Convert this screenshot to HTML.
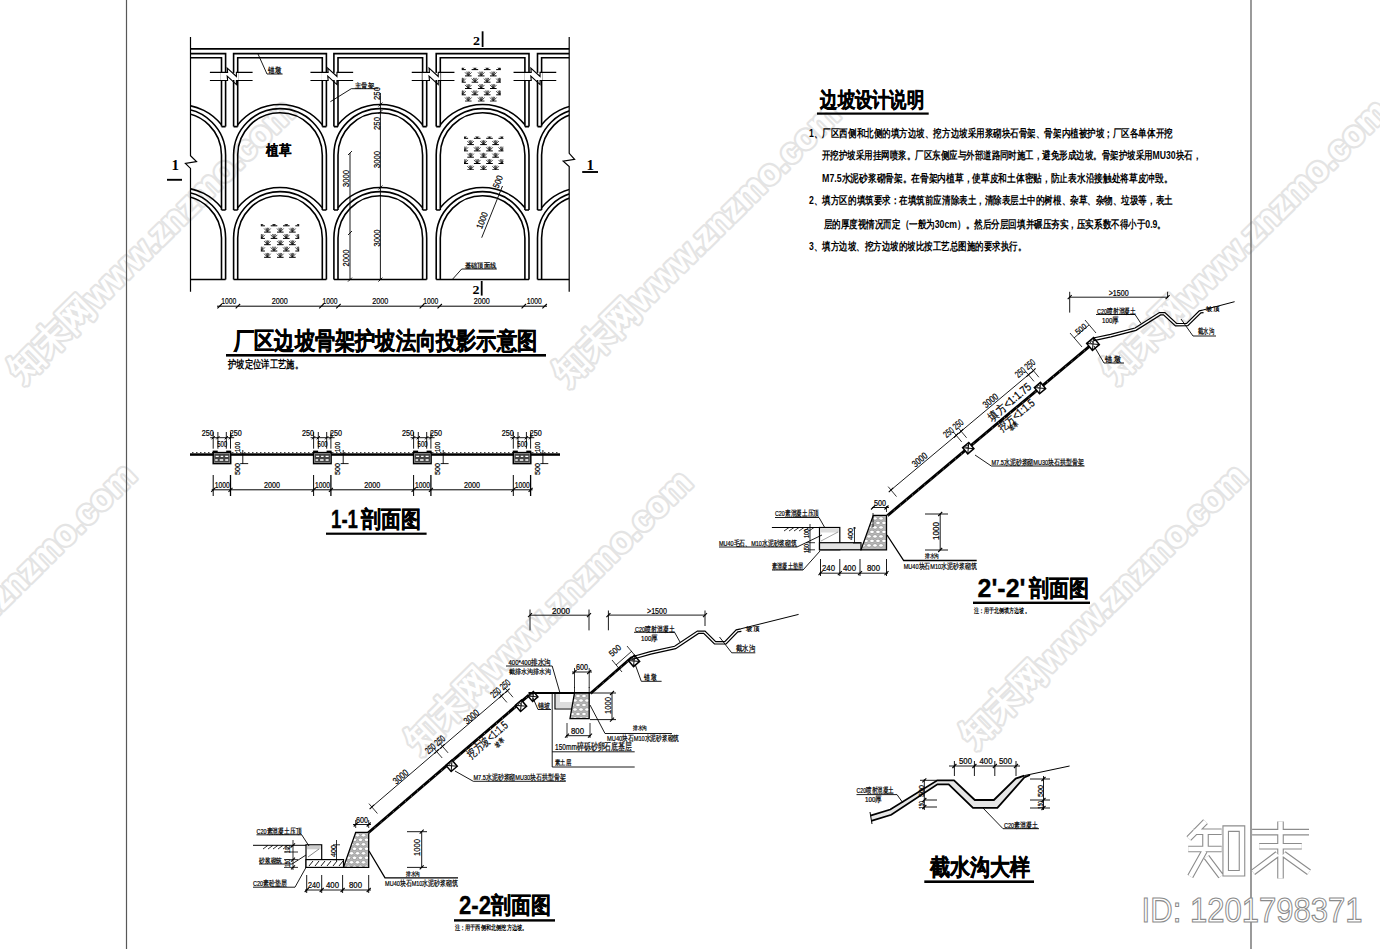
<!DOCTYPE html>
<html><head><meta charset="utf-8"><title>slope drawing</title>
<style>html,body{margin:0;padding:0;background:#fff;}svg{display:block;}</style></head>
<body><svg width="1380" height="949" viewBox="0 0 1380 949">
<rect x="0" y="0" width="1380" height="949" fill="#fff"/>
<text x="22" y="384" transform="rotate(-44.5 22 384)" font-family='"Liberation Sans", sans-serif' font-weight="bold" font-size="35" fill="#fff" stroke="#e4e4e4" stroke-width="4.4" paint-order="stroke" stroke-linejoin="round">知末网www.znzmo.com</text>
<text x="567" y="387" transform="rotate(-44.5 567 387)" font-family='"Liberation Sans", sans-serif' font-weight="bold" font-size="35" fill="#fff" stroke="#e4e4e4" stroke-width="4.4" paint-order="stroke" stroke-linejoin="round">知末网www.znzmo.com</text>
<text x="1115" y="384" transform="rotate(-44.5 1115 384)" font-family='"Liberation Sans", sans-serif' font-weight="bold" font-size="35" fill="#fff" stroke="#e4e4e4" stroke-width="4.4" paint-order="stroke" stroke-linejoin="round">知末网www.znzmo.com</text>
<text x="-137" y="748" transform="rotate(-44.5 -137 748)" font-family='"Liberation Sans", sans-serif' font-weight="bold" font-size="35" fill="#fff" stroke="#e4e4e4" stroke-width="4.4" paint-order="stroke" stroke-linejoin="round">知末网www.znzmo.com</text>
<text x="419" y="755" transform="rotate(-44.5 419 755)" font-family='"Liberation Sans", sans-serif' font-weight="bold" font-size="35" fill="#fff" stroke="#e4e4e4" stroke-width="4.4" paint-order="stroke" stroke-linejoin="round">知末网www.znzmo.com</text>
<text x="974" y="749" transform="rotate(-44.5 974 749)" font-family='"Liberation Sans", sans-serif' font-weight="bold" font-size="35" fill="#fff" stroke="#e4e4e4" stroke-width="4.4" paint-order="stroke" stroke-linejoin="round">知末网www.znzmo.com</text>
<line x1="126.5" y1="0" x2="126.5" y2="949" stroke="#585858" stroke-width="1.2" />
<line x1="1251" y1="0" x2="1251" y2="949" stroke="#585858" stroke-width="1.2" />
<defs><clipPath id="latclip"><rect x="190.5" y="30" width="378.70000000000005" height="270"/></clipPath>
<g id="tuft"><path d="M-3.3,0 H3.3" stroke="#000" stroke-width="1.0"/><path d="M-0.3,-0.4 L-3.3,-3.6 M-0.2,-0.4 L-1.5,-4.3 M0,-0.4 L0,-4.4 M0.2,-0.4 L1.5,-4.3 M0.3,-0.4 L3.3,-3.6" stroke="#000" stroke-width="0.7" fill="none"/></g>
</defs>
<g clip-path="url(#latclip)">
<path d="M132.8,126.6 V53.6 H225.6 V126.6 M136.9,126.6 V57.7 H221.5 V126.6 M132.8,126.6 H136.9 M221.5,126.6 H225.6" stroke="#000" stroke-width="1.6" fill="none"/>
<path d="M136.9,124.81 A54.2,54.2 0 0 1 221.5,124.81" stroke="#000" stroke-width="1.6" fill="none"/>
<path d="M132.8,210 V155 A46.4,46.4 0 0 1 225.6,155 V210" stroke="#000" stroke-width="1.6" fill="none"/>
<path d="M136.9,210 V155 A42.3,42.3 0 0 1 221.5,155 V210" stroke="#000" stroke-width="1.6" fill="none"/>
<path d="M132.8,210 H136.9 M221.5,210 H225.6" stroke="#000" stroke-width="1.6"/>
<path d="M136.9,207.81 A54.2,54.2 0 0 1 221.5,207.81" stroke="#000" stroke-width="1.6" fill="none"/>
<path d="M132.8,279.6 V238 A46.4,46.4 0 0 1 225.6,238 V279.6" stroke="#000" stroke-width="1.6" fill="none"/>
<path d="M136.9,279.6 V238 A42.3,42.3 0 0 1 221.5,238 V279.6" stroke="#000" stroke-width="1.6" fill="none"/>
<line x1="132.8" y1="279.6" x2="225.6" y2="279.6" stroke="#000" stroke-width="1.5" />
<path d="M233.6,126.6 V53.6 H326.4 V126.6 M237.7,126.6 V57.7 H322.3 V126.6 M233.6,126.6 H237.7 M322.3,126.6 H326.4" stroke="#000" stroke-width="1.6" fill="none"/>
<path d="M237.7,124.81 A54.2,54.2 0 0 1 322.3,124.81" stroke="#000" stroke-width="1.6" fill="none"/>
<path d="M233.6,210 V155 A46.4,46.4 0 0 1 326.4,155 V210" stroke="#000" stroke-width="1.6" fill="none"/>
<path d="M237.7,210 V155 A42.3,42.3 0 0 1 322.3,155 V210" stroke="#000" stroke-width="1.6" fill="none"/>
<path d="M233.6,210 H237.7 M322.3,210 H326.4" stroke="#000" stroke-width="1.6"/>
<path d="M237.7,207.81 A54.2,54.2 0 0 1 322.3,207.81" stroke="#000" stroke-width="1.6" fill="none"/>
<path d="M233.6,279.6 V238 A46.4,46.4 0 0 1 326.4,238 V279.6" stroke="#000" stroke-width="1.6" fill="none"/>
<path d="M237.7,279.6 V238 A42.3,42.3 0 0 1 322.3,238 V279.6" stroke="#000" stroke-width="1.6" fill="none"/>
<line x1="233.6" y1="279.6" x2="326.4" y2="279.6" stroke="#000" stroke-width="1.5" />
<path d="M333.9,126.6 V53.6 H426.7 V126.6 M338,126.6 V57.7 H422.6 V126.6 M333.9,126.6 H338 M422.6,126.6 H426.7" stroke="#000" stroke-width="1.6" fill="none"/>
<path d="M338,124.81 A54.2,54.2 0 0 1 422.6,124.81" stroke="#000" stroke-width="1.6" fill="none"/>
<path d="M333.9,210 V155 A46.4,46.4 0 0 1 426.7,155 V210" stroke="#000" stroke-width="1.6" fill="none"/>
<path d="M338,210 V155 A42.3,42.3 0 0 1 422.6,155 V210" stroke="#000" stroke-width="1.6" fill="none"/>
<path d="M333.9,210 H338 M422.6,210 H426.7" stroke="#000" stroke-width="1.6"/>
<path d="M338,207.81 A54.2,54.2 0 0 1 422.6,207.81" stroke="#000" stroke-width="1.6" fill="none"/>
<path d="M333.9,279.6 V238 A46.4,46.4 0 0 1 426.7,238 V279.6" stroke="#000" stroke-width="1.6" fill="none"/>
<path d="M338,279.6 V238 A42.3,42.3 0 0 1 422.6,238 V279.6" stroke="#000" stroke-width="1.6" fill="none"/>
<line x1="333.9" y1="279.6" x2="426.7" y2="279.6" stroke="#000" stroke-width="1.5" />
<path d="M436.2,126.6 V53.6 H529 V126.6 M440.3,126.6 V57.7 H524.9 V126.6 M436.2,126.6 H440.3 M524.9,126.6 H529" stroke="#000" stroke-width="1.6" fill="none"/>
<path d="M440.3,124.81 A54.2,54.2 0 0 1 524.9,124.81" stroke="#000" stroke-width="1.6" fill="none"/>
<path d="M436.2,210 V155 A46.4,46.4 0 0 1 529,155 V210" stroke="#000" stroke-width="1.6" fill="none"/>
<path d="M440.3,210 V155 A42.3,42.3 0 0 1 524.9,155 V210" stroke="#000" stroke-width="1.6" fill="none"/>
<path d="M436.2,210 H440.3 M524.9,210 H529" stroke="#000" stroke-width="1.6"/>
<path d="M440.3,207.81 A54.2,54.2 0 0 1 524.9,207.81" stroke="#000" stroke-width="1.6" fill="none"/>
<path d="M436.2,279.6 V238 A46.4,46.4 0 0 1 529,238 V279.6" stroke="#000" stroke-width="1.6" fill="none"/>
<path d="M440.3,279.6 V238 A42.3,42.3 0 0 1 524.9,238 V279.6" stroke="#000" stroke-width="1.6" fill="none"/>
<line x1="436.2" y1="279.6" x2="529" y2="279.6" stroke="#000" stroke-width="1.5" />
<path d="M537.5,126.6 V53.6 H630.3 V126.6 M541.6,126.6 V57.7 H626.2 V126.6 M537.5,126.6 H541.6 M626.2,126.6 H630.3" stroke="#000" stroke-width="1.6" fill="none"/>
<path d="M541.6,124.81 A54.2,54.2 0 0 1 626.2,124.81" stroke="#000" stroke-width="1.6" fill="none"/>
<path d="M537.5,210 V155 A46.4,46.4 0 0 1 630.3,155 V210" stroke="#000" stroke-width="1.6" fill="none"/>
<path d="M541.6,210 V155 A42.3,42.3 0 0 1 626.2,155 V210" stroke="#000" stroke-width="1.6" fill="none"/>
<path d="M537.5,210 H541.6 M626.2,210 H630.3" stroke="#000" stroke-width="1.6"/>
<path d="M541.6,207.81 A54.2,54.2 0 0 1 626.2,207.81" stroke="#000" stroke-width="1.6" fill="none"/>
<path d="M537.5,279.6 V238 A46.4,46.4 0 0 1 630.3,238 V279.6" stroke="#000" stroke-width="1.6" fill="none"/>
<path d="M541.6,279.6 V238 A42.3,42.3 0 0 1 626.2,238 V279.6" stroke="#000" stroke-width="1.6" fill="none"/>
<line x1="537.5" y1="279.6" x2="630.3" y2="279.6" stroke="#000" stroke-width="1.5" />
<rect x="220.6" y="72.9" width="18" height="7.1" fill="#fff"/>
<path d="M209.9,72.4 H227.6 L227.2,68.1 L236.4,76.5 L236.4,72.4 H252.6" stroke="#000" stroke-width="1.1" fill="none"/>
<path d="M209.9,80.5 H227.6 L227.2,76.2 L236.4,84.6 L236.4,80.5 H252.6" stroke="#000" stroke-width="1.1" fill="none"/>
<rect x="321.15" y="72.9" width="18" height="7.1" fill="#fff"/>
<path d="M310.45,72.4 H328.15 L327.75,68.1 L336.95,76.5 L336.95,72.4 H353.15" stroke="#000" stroke-width="1.1" fill="none"/>
<path d="M310.45,80.5 H328.15 L327.75,76.2 L336.95,84.6 L336.95,80.5 H353.15" stroke="#000" stroke-width="1.1" fill="none"/>
<rect x="422.45" y="72.9" width="18" height="7.1" fill="#fff"/>
<path d="M411.75,72.4 H429.45 L429.05,68.1 L438.25,76.5 L438.25,72.4 H454.45" stroke="#000" stroke-width="1.1" fill="none"/>
<path d="M411.75,80.5 H429.45 L429.05,76.2 L438.25,84.6 L438.25,80.5 H454.45" stroke="#000" stroke-width="1.1" fill="none"/>
<rect x="524.25" y="72.9" width="18" height="7.1" fill="#fff"/>
<path d="M513.55,72.4 H531.25 L530.85,68.1 L540.05,76.5 L540.05,72.4 H556.25" stroke="#000" stroke-width="1.1" fill="none"/>
<path d="M513.55,80.5 H531.25 L530.85,76.2 L540.05,84.6 L540.05,80.5 H556.25" stroke="#000" stroke-width="1.1" fill="none"/>
</g>
<line x1="190.5" y1="48.8" x2="569.2" y2="48.8" stroke="#000" stroke-width="1.7" />
<path d="M190.5,37 L190.5,155.8 L196.5,161.5 L185.4,163.4 L190.5,168.4 L190.5,291.7" stroke="#000" stroke-width="1.2" fill="none" stroke-linejoin="miter" />
<path d="M569.2,37 L569.2,153.3 L574.6,159.3 L563.2,161.2 L569.2,166.6 L569.2,291.8" stroke="#000" stroke-width="1.2" fill="none" stroke-linejoin="miter" />
<clipPath id="gc260224"><rect x="260.8" y="224" width="38.4" height="34"/></clipPath><g clip-path="url(#gc260224)">
<use href="#tuft" x="261.6" y="225.8"/>
<use href="#tuft" x="274" y="225.8"/>
<use href="#tuft" x="286.3" y="225.8"/>
<use href="#tuft" x="298.6" y="225.8"/>
<use href="#tuft" x="267.4" y="232.1"/>
<use href="#tuft" x="280.3" y="232.1"/>
<use href="#tuft" x="292.4" y="232.1"/>
<use href="#tuft" x="261.6" y="238.4"/>
<use href="#tuft" x="274" y="238.4"/>
<use href="#tuft" x="286.3" y="238.4"/>
<use href="#tuft" x="298.6" y="238.4"/>
<use href="#tuft" x="267.4" y="244.7"/>
<use href="#tuft" x="280.3" y="244.7"/>
<use href="#tuft" x="292.4" y="244.7"/>
<use href="#tuft" x="261.6" y="251"/>
<use href="#tuft" x="274" y="251"/>
<use href="#tuft" x="286.3" y="251"/>
<use href="#tuft" x="298.6" y="251"/>
<use href="#tuft" x="267.4" y="257.3"/>
<use href="#tuft" x="280.3" y="257.3"/>
<use href="#tuft" x="292.4" y="257.3"/>
</g>
<clipPath id="gc46167"><rect x="461.7" y="67.8" width="39.2" height="33.9"/></clipPath><g clip-path="url(#gc46167)">
<use href="#tuft" x="462.5" y="69.6"/>
<use href="#tuft" x="474.9" y="69.6"/>
<use href="#tuft" x="487.2" y="69.6"/>
<use href="#tuft" x="499.5" y="69.6"/>
<use href="#tuft" x="468.3" y="75.9"/>
<use href="#tuft" x="481.2" y="75.9"/>
<use href="#tuft" x="493.3" y="75.9"/>
<use href="#tuft" x="462.5" y="82.2"/>
<use href="#tuft" x="474.9" y="82.2"/>
<use href="#tuft" x="487.2" y="82.2"/>
<use href="#tuft" x="499.5" y="82.2"/>
<use href="#tuft" x="468.3" y="88.5"/>
<use href="#tuft" x="481.2" y="88.5"/>
<use href="#tuft" x="493.3" y="88.5"/>
<use href="#tuft" x="462.5" y="94.8"/>
<use href="#tuft" x="474.9" y="94.8"/>
<use href="#tuft" x="487.2" y="94.8"/>
<use href="#tuft" x="499.5" y="94.8"/>
<use href="#tuft" x="468.3" y="101.1"/>
<use href="#tuft" x="481.2" y="101.1"/>
<use href="#tuft" x="493.3" y="101.1"/>
</g>
<clipPath id="gc464136"><rect x="464" y="136.5" width="39.5" height="33.5"/></clipPath><g clip-path="url(#gc464136)">
<use href="#tuft" x="464.8" y="138.3"/>
<use href="#tuft" x="477.2" y="138.3"/>
<use href="#tuft" x="489.5" y="138.3"/>
<use href="#tuft" x="501.8" y="138.3"/>
<use href="#tuft" x="470.6" y="144.6"/>
<use href="#tuft" x="483.5" y="144.6"/>
<use href="#tuft" x="495.6" y="144.6"/>
<use href="#tuft" x="464.8" y="150.9"/>
<use href="#tuft" x="477.2" y="150.9"/>
<use href="#tuft" x="489.5" y="150.9"/>
<use href="#tuft" x="501.8" y="150.9"/>
<use href="#tuft" x="470.6" y="157.2"/>
<use href="#tuft" x="483.5" y="157.2"/>
<use href="#tuft" x="495.6" y="157.2"/>
<use href="#tuft" x="464.8" y="163.5"/>
<use href="#tuft" x="477.2" y="163.5"/>
<use href="#tuft" x="489.5" y="163.5"/>
<use href="#tuft" x="501.8" y="163.5"/>
<use href="#tuft" x="470.6" y="169.8"/>
<use href="#tuft" x="483.5" y="169.8"/>
<use href="#tuft" x="495.6" y="169.8"/>
</g>
<text x="266" y="155" font-size="13.5" font-family='"Liberation Sans", sans-serif' font-weight="bold" text-anchor="start" fill="#000" textLength="25" lengthAdjust="spacingAndGlyphs" stroke="#000" stroke-width="0.3">植草</text>
<line x1="380.4" y1="93" x2="380.4" y2="279.6" stroke="#000" stroke-width="0.9" />
<line x1="378.4" y1="106.5" x2="382.4" y2="102.5" stroke="#000" stroke-width="0.9" />
<line x1="378.4" y1="114" x2="382.4" y2="110" stroke="#000" stroke-width="0.9" />
<line x1="378.4" y1="189.5" x2="382.4" y2="185.5" stroke="#000" stroke-width="0.9" />
<line x1="378.4" y1="281.6" x2="382.4" y2="277.6" stroke="#000" stroke-width="0.9" />
<text x="379.5" y="100" font-size="9.5" font-family='"Liberation Sans", sans-serif' font-weight="normal" text-anchor="start" fill="#000" textLength="13" lengthAdjust="spacingAndGlyphs" transform="rotate(-90 379.5 100)"  stroke="#000" stroke-width="0.22">250</text>
<text x="379.5" y="130" font-size="9.5" font-family='"Liberation Sans", sans-serif' font-weight="normal" text-anchor="start" fill="#000" textLength="13" lengthAdjust="spacingAndGlyphs" transform="rotate(-90 379.5 130)"  stroke="#000" stroke-width="0.22">250</text>
<text x="379.5" y="168" font-size="9.5" font-family='"Liberation Sans", sans-serif' font-weight="normal" text-anchor="start" fill="#000" textLength="17" lengthAdjust="spacingAndGlyphs" transform="rotate(-90 379.5 168)"  stroke="#000" stroke-width="0.22">3000</text>
<text x="379.5" y="246.5" font-size="9.5" font-family='"Liberation Sans", sans-serif' font-weight="normal" text-anchor="start" fill="#000" textLength="17" lengthAdjust="spacingAndGlyphs" transform="rotate(-90 379.5 246.5)"  stroke="#000" stroke-width="0.22">3000</text>
<line x1="350" y1="153" x2="350" y2="279.6" stroke="#000" stroke-width="0.9" />
<line x1="348" y1="155" x2="352" y2="151" stroke="#000" stroke-width="0.9" />
<line x1="348" y1="235" x2="352" y2="231" stroke="#000" stroke-width="0.9" />
<line x1="348" y1="281.6" x2="352" y2="277.6" stroke="#000" stroke-width="0.9" />
<text x="349" y="187" font-size="9.5" font-family='"Liberation Sans", sans-serif' font-weight="normal" text-anchor="start" fill="#000" textLength="17" lengthAdjust="spacingAndGlyphs" transform="rotate(-90 349 187)"  stroke="#000" stroke-width="0.22">3000</text>
<text x="349" y="266.5" font-size="9.5" font-family='"Liberation Sans", sans-serif' font-weight="normal" text-anchor="start" fill="#000" textLength="17" lengthAdjust="spacingAndGlyphs" transform="rotate(-90 349 266.5)"  stroke="#000" stroke-width="0.22">2000</text>
<line x1="481.7" y1="237.7" x2="502.5" y2="186" stroke="#000" stroke-width="0.9" />
<text x="485" y="221.5" font-size="9" font-family='"Liberation Sans", sans-serif' font-weight="normal" text-anchor="middle" fill="#000" textLength="17" lengthAdjust="spacingAndGlyphs" transform="rotate(-68 485 221.5)"  stroke="#000" stroke-width="0.22">1000</text>
<text x="500.7" y="183" font-size="9" font-family='"Liberation Sans", sans-serif' font-weight="normal" text-anchor="middle" fill="#000" textLength="13" lengthAdjust="spacingAndGlyphs" transform="rotate(-68 500.7 183)"  stroke="#000" stroke-width="0.22">500</text>
<path d="M258,54 L267,74 L282.6,74" stroke="#000" stroke-width="0.9" fill="none" stroke-linejoin="miter" />
<text x="268" y="72.5" font-size="7.5" font-family='"Liberation Sans", sans-serif' font-weight="normal" text-anchor="start" fill="#000" textLength="13" lengthAdjust="spacingAndGlyphs"  stroke="#000" stroke-width="0.22">锚墩</text>
<path d="M330.4,101.7 L351.3,88.7 L378.3,88.7" stroke="#000" stroke-width="0.9" fill="none" stroke-linejoin="miter" />
<text x="355" y="88" font-size="7" font-family='"Liberation Sans", sans-serif' font-weight="normal" text-anchor="start" fill="#000" textLength="19" lengthAdjust="spacingAndGlyphs"  stroke="#000" stroke-width="0.22">主骨架</text>
<path d="M452.3,279.5 L461.7,269 L496.8,269" stroke="#000" stroke-width="0.9" fill="none" stroke-linejoin="miter" />
<text x="465" y="267.5" font-size="7" font-family='"Liberation Sans", sans-serif' font-weight="normal" text-anchor="start" fill="#000" textLength="31" lengthAdjust="spacingAndGlyphs"  stroke="#000" stroke-width="0.22">基础顶面线</text>
<text x="473" y="45" font-size="13" font-family='"Liberation Serif", serif' font-weight="bold" text-anchor="start" fill="#000" textLength="7" lengthAdjust="spacingAndGlyphs" >2</text>
<line x1="482.6" y1="31.3" x2="482.6" y2="47" stroke="#000" stroke-width="1.8" />
<text x="472.5" y="293.7" font-size="13" font-family='"Liberation Serif", serif' font-weight="bold" text-anchor="start" fill="#000" textLength="7" lengthAdjust="spacingAndGlyphs" >2</text>
<line x1="481.7" y1="281" x2="481.7" y2="295.6" stroke="#000" stroke-width="1.8" />
<text x="171.5" y="169.7" font-size="15" font-family='"Liberation Serif", serif' font-weight="bold" text-anchor="start" fill="#000" >1</text>
<line x1="167" y1="179.8" x2="182" y2="179.8" stroke="#000" stroke-width="1.9" />
<text x="586.6" y="169.8" font-size="15" font-family='"Liberation Serif", serif' font-weight="bold" text-anchor="start" fill="#000" >1</text>
<line x1="582.2" y1="172" x2="598" y2="172" stroke="#000" stroke-width="1.9" />
<line x1="217" y1="306.2" x2="547" y2="306.2" stroke="#000" stroke-width="1.0" />
<line x1="217.4" y1="308.4" x2="221.8" y2="304" stroke="#000" stroke-width="1.1" />
<line x1="235.7" y1="308.4" x2="240.1" y2="304" stroke="#000" stroke-width="1.1" />
<line x1="319.2" y1="308.4" x2="323.6" y2="304" stroke="#000" stroke-width="1.1" />
<line x1="336.2" y1="308.4" x2="340.6" y2="304" stroke="#000" stroke-width="1.1" />
<line x1="419.7" y1="308.4" x2="424.1" y2="304" stroke="#000" stroke-width="1.1" />
<line x1="437.5" y1="308.4" x2="441.9" y2="304" stroke="#000" stroke-width="1.1" />
<line x1="521.6" y1="308.4" x2="526" y2="304" stroke="#000" stroke-width="1.1" />
<line x1="542.4" y1="308.4" x2="546.8" y2="304" stroke="#000" stroke-width="1.1" />
<text x="228.75" y="304" font-size="9.5" font-family='"Liberation Sans", sans-serif' font-weight="normal" text-anchor="middle" fill="#000" textLength="15" lengthAdjust="spacingAndGlyphs"  stroke="#000" stroke-width="0.22">1000</text>
<text x="279.65" y="304" font-size="9.5" font-family='"Liberation Sans", sans-serif' font-weight="normal" text-anchor="middle" fill="#000" textLength="16" lengthAdjust="spacingAndGlyphs"  stroke="#000" stroke-width="0.22">2000</text>
<text x="329.9" y="304" font-size="9.5" font-family='"Liberation Sans", sans-serif' font-weight="normal" text-anchor="middle" fill="#000" textLength="15" lengthAdjust="spacingAndGlyphs"  stroke="#000" stroke-width="0.22">1000</text>
<text x="380.15" y="304" font-size="9.5" font-family='"Liberation Sans", sans-serif' font-weight="normal" text-anchor="middle" fill="#000" textLength="16" lengthAdjust="spacingAndGlyphs"  stroke="#000" stroke-width="0.22">2000</text>
<text x="430.8" y="304" font-size="9.5" font-family='"Liberation Sans", sans-serif' font-weight="normal" text-anchor="middle" fill="#000" textLength="15" lengthAdjust="spacingAndGlyphs"  stroke="#000" stroke-width="0.22">1000</text>
<text x="481.75" y="304" font-size="9.5" font-family='"Liberation Sans", sans-serif' font-weight="normal" text-anchor="middle" fill="#000" textLength="16" lengthAdjust="spacingAndGlyphs"  stroke="#000" stroke-width="0.22">2000</text>
<text x="534.2" y="304" font-size="9.5" font-family='"Liberation Sans", sans-serif' font-weight="normal" text-anchor="middle" fill="#000" textLength="15" lengthAdjust="spacingAndGlyphs"  stroke="#000" stroke-width="0.22">1000</text>
<text x="234" y="349" font-size="23.5" font-family='"Liberation Sans", sans-serif' font-weight="bold" text-anchor="start" fill="#000" textLength="303" lengthAdjust="spacingAndGlyphs" stroke="#000" stroke-width="0.55">厂区边坡骨架护坡法向投影示意图</text>
<rect x="226" y="354" width="320" height="2.6" fill="#000"/>
<text x="228" y="367.5" font-size="11" font-family='"Liberation Sans", sans-serif' font-weight="bold" text-anchor="start" fill="#000" textLength="75" lengthAdjust="spacingAndGlyphs" >护坡定位详工艺施。</text>
<rect x="190" y="453.3" width="370" height="2.5" fill="#000"/>
<line x1="192" y1="452.6" x2="193.5" y2="452.6" stroke="#000" stroke-width="0.8" />
<line x1="196" y1="452.6" x2="197.5" y2="452.6" stroke="#000" stroke-width="0.8" />
<line x1="200" y1="452.6" x2="201.5" y2="452.6" stroke="#000" stroke-width="0.8" />
<line x1="204" y1="452.6" x2="205.5" y2="452.6" stroke="#000" stroke-width="0.8" />
<line x1="208" y1="452.6" x2="209.5" y2="452.6" stroke="#000" stroke-width="0.8" />
<line x1="212" y1="452.6" x2="213.5" y2="452.6" stroke="#000" stroke-width="0.8" />
<line x1="216" y1="452.6" x2="217.5" y2="452.6" stroke="#000" stroke-width="0.8" />
<line x1="220" y1="452.6" x2="221.5" y2="452.6" stroke="#000" stroke-width="0.8" />
<line x1="224" y1="452.6" x2="225.5" y2="452.6" stroke="#000" stroke-width="0.8" />
<line x1="228" y1="452.6" x2="229.5" y2="452.6" stroke="#000" stroke-width="0.8" />
<line x1="232" y1="452.6" x2="233.5" y2="452.6" stroke="#000" stroke-width="0.8" />
<line x1="236" y1="452.6" x2="237.5" y2="452.6" stroke="#000" stroke-width="0.8" />
<line x1="240" y1="452.6" x2="241.5" y2="452.6" stroke="#000" stroke-width="0.8" />
<line x1="244" y1="452.6" x2="245.5" y2="452.6" stroke="#000" stroke-width="0.8" />
<line x1="248" y1="452.6" x2="249.5" y2="452.6" stroke="#000" stroke-width="0.8" />
<line x1="252" y1="452.6" x2="253.5" y2="452.6" stroke="#000" stroke-width="0.8" />
<line x1="256" y1="452.6" x2="257.5" y2="452.6" stroke="#000" stroke-width="0.8" />
<line x1="260" y1="452.6" x2="261.5" y2="452.6" stroke="#000" stroke-width="0.8" />
<line x1="264" y1="452.6" x2="265.5" y2="452.6" stroke="#000" stroke-width="0.8" />
<line x1="268" y1="452.6" x2="269.5" y2="452.6" stroke="#000" stroke-width="0.8" />
<line x1="272" y1="452.6" x2="273.5" y2="452.6" stroke="#000" stroke-width="0.8" />
<line x1="276" y1="452.6" x2="277.5" y2="452.6" stroke="#000" stroke-width="0.8" />
<line x1="280" y1="452.6" x2="281.5" y2="452.6" stroke="#000" stroke-width="0.8" />
<line x1="284" y1="452.6" x2="285.5" y2="452.6" stroke="#000" stroke-width="0.8" />
<line x1="288" y1="452.6" x2="289.5" y2="452.6" stroke="#000" stroke-width="0.8" />
<line x1="292" y1="452.6" x2="293.5" y2="452.6" stroke="#000" stroke-width="0.8" />
<line x1="296" y1="452.6" x2="297.5" y2="452.6" stroke="#000" stroke-width="0.8" />
<line x1="300" y1="452.6" x2="301.5" y2="452.6" stroke="#000" stroke-width="0.8" />
<line x1="304" y1="452.6" x2="305.5" y2="452.6" stroke="#000" stroke-width="0.8" />
<line x1="308" y1="452.6" x2="309.5" y2="452.6" stroke="#000" stroke-width="0.8" />
<line x1="312" y1="452.6" x2="313.5" y2="452.6" stroke="#000" stroke-width="0.8" />
<line x1="316" y1="452.6" x2="317.5" y2="452.6" stroke="#000" stroke-width="0.8" />
<line x1="320" y1="452.6" x2="321.5" y2="452.6" stroke="#000" stroke-width="0.8" />
<line x1="324" y1="452.6" x2="325.5" y2="452.6" stroke="#000" stroke-width="0.8" />
<line x1="328" y1="452.6" x2="329.5" y2="452.6" stroke="#000" stroke-width="0.8" />
<line x1="332" y1="452.6" x2="333.5" y2="452.6" stroke="#000" stroke-width="0.8" />
<line x1="336" y1="452.6" x2="337.5" y2="452.6" stroke="#000" stroke-width="0.8" />
<line x1="340" y1="452.6" x2="341.5" y2="452.6" stroke="#000" stroke-width="0.8" />
<line x1="344" y1="452.6" x2="345.5" y2="452.6" stroke="#000" stroke-width="0.8" />
<line x1="348" y1="452.6" x2="349.5" y2="452.6" stroke="#000" stroke-width="0.8" />
<line x1="352" y1="452.6" x2="353.5" y2="452.6" stroke="#000" stroke-width="0.8" />
<line x1="356" y1="452.6" x2="357.5" y2="452.6" stroke="#000" stroke-width="0.8" />
<line x1="360" y1="452.6" x2="361.5" y2="452.6" stroke="#000" stroke-width="0.8" />
<line x1="364" y1="452.6" x2="365.5" y2="452.6" stroke="#000" stroke-width="0.8" />
<line x1="368" y1="452.6" x2="369.5" y2="452.6" stroke="#000" stroke-width="0.8" />
<line x1="372" y1="452.6" x2="373.5" y2="452.6" stroke="#000" stroke-width="0.8" />
<line x1="376" y1="452.6" x2="377.5" y2="452.6" stroke="#000" stroke-width="0.8" />
<line x1="380" y1="452.6" x2="381.5" y2="452.6" stroke="#000" stroke-width="0.8" />
<line x1="384" y1="452.6" x2="385.5" y2="452.6" stroke="#000" stroke-width="0.8" />
<line x1="388" y1="452.6" x2="389.5" y2="452.6" stroke="#000" stroke-width="0.8" />
<line x1="392" y1="452.6" x2="393.5" y2="452.6" stroke="#000" stroke-width="0.8" />
<line x1="396" y1="452.6" x2="397.5" y2="452.6" stroke="#000" stroke-width="0.8" />
<line x1="400" y1="452.6" x2="401.5" y2="452.6" stroke="#000" stroke-width="0.8" />
<line x1="404" y1="452.6" x2="405.5" y2="452.6" stroke="#000" stroke-width="0.8" />
<line x1="408" y1="452.6" x2="409.5" y2="452.6" stroke="#000" stroke-width="0.8" />
<line x1="412" y1="452.6" x2="413.5" y2="452.6" stroke="#000" stroke-width="0.8" />
<line x1="416" y1="452.6" x2="417.5" y2="452.6" stroke="#000" stroke-width="0.8" />
<line x1="420" y1="452.6" x2="421.5" y2="452.6" stroke="#000" stroke-width="0.8" />
<line x1="424" y1="452.6" x2="425.5" y2="452.6" stroke="#000" stroke-width="0.8" />
<line x1="428" y1="452.6" x2="429.5" y2="452.6" stroke="#000" stroke-width="0.8" />
<line x1="432" y1="452.6" x2="433.5" y2="452.6" stroke="#000" stroke-width="0.8" />
<line x1="436" y1="452.6" x2="437.5" y2="452.6" stroke="#000" stroke-width="0.8" />
<line x1="440" y1="452.6" x2="441.5" y2="452.6" stroke="#000" stroke-width="0.8" />
<line x1="444" y1="452.6" x2="445.5" y2="452.6" stroke="#000" stroke-width="0.8" />
<line x1="448" y1="452.6" x2="449.5" y2="452.6" stroke="#000" stroke-width="0.8" />
<line x1="452" y1="452.6" x2="453.5" y2="452.6" stroke="#000" stroke-width="0.8" />
<line x1="456" y1="452.6" x2="457.5" y2="452.6" stroke="#000" stroke-width="0.8" />
<line x1="460" y1="452.6" x2="461.5" y2="452.6" stroke="#000" stroke-width="0.8" />
<line x1="464" y1="452.6" x2="465.5" y2="452.6" stroke="#000" stroke-width="0.8" />
<line x1="468" y1="452.6" x2="469.5" y2="452.6" stroke="#000" stroke-width="0.8" />
<line x1="472" y1="452.6" x2="473.5" y2="452.6" stroke="#000" stroke-width="0.8" />
<line x1="476" y1="452.6" x2="477.5" y2="452.6" stroke="#000" stroke-width="0.8" />
<line x1="480" y1="452.6" x2="481.5" y2="452.6" stroke="#000" stroke-width="0.8" />
<line x1="484" y1="452.6" x2="485.5" y2="452.6" stroke="#000" stroke-width="0.8" />
<line x1="488" y1="452.6" x2="489.5" y2="452.6" stroke="#000" stroke-width="0.8" />
<line x1="492" y1="452.6" x2="493.5" y2="452.6" stroke="#000" stroke-width="0.8" />
<line x1="496" y1="452.6" x2="497.5" y2="452.6" stroke="#000" stroke-width="0.8" />
<line x1="500" y1="452.6" x2="501.5" y2="452.6" stroke="#000" stroke-width="0.8" />
<line x1="504" y1="452.6" x2="505.5" y2="452.6" stroke="#000" stroke-width="0.8" />
<line x1="508" y1="452.6" x2="509.5" y2="452.6" stroke="#000" stroke-width="0.8" />
<line x1="512" y1="452.6" x2="513.5" y2="452.6" stroke="#000" stroke-width="0.8" />
<line x1="516" y1="452.6" x2="517.5" y2="452.6" stroke="#000" stroke-width="0.8" />
<line x1="520" y1="452.6" x2="521.5" y2="452.6" stroke="#000" stroke-width="0.8" />
<line x1="524" y1="452.6" x2="525.5" y2="452.6" stroke="#000" stroke-width="0.8" />
<line x1="528" y1="452.6" x2="529.5" y2="452.6" stroke="#000" stroke-width="0.8" />
<line x1="532" y1="452.6" x2="533.5" y2="452.6" stroke="#000" stroke-width="0.8" />
<line x1="536" y1="452.6" x2="537.5" y2="452.6" stroke="#000" stroke-width="0.8" />
<line x1="540" y1="452.6" x2="541.5" y2="452.6" stroke="#000" stroke-width="0.8" />
<line x1="544" y1="452.6" x2="545.5" y2="452.6" stroke="#000" stroke-width="0.8" />
<line x1="548" y1="452.6" x2="549.5" y2="452.6" stroke="#000" stroke-width="0.8" />
<line x1="552" y1="452.6" x2="553.5" y2="452.6" stroke="#000" stroke-width="0.8" />
<line x1="556" y1="452.6" x2="557.5" y2="452.6" stroke="#000" stroke-width="0.8" />
<rect x="213.2" y="452.6" width="17.5" height="11" fill="#fff" stroke="#000" stroke-width="1.5"/>
<rect x="214.2" y="453.6" width="15.5" height="9" fill="#444"/>
<path d="M215.7,456.3 h3 m2,0 h2.5 m2,0 h3 M215.2,460 h2.5 m2,0 h3.5 m2,0 h3" stroke="#fff" stroke-width="1.3"/>
<rect x="212.7" y="450.6" width="5" height="2.4" fill="#000"/><rect x="226.2" y="450.6" width="5" height="2.4" fill="#000"/>
<line x1="213.2" y1="432" x2="213.2" y2="448.7" stroke="#000" stroke-width="0.9" />
<line x1="217.9" y1="432" x2="217.9" y2="448.7" stroke="#000" stroke-width="0.9" />
<line x1="226.3" y1="432" x2="226.3" y2="448.7" stroke="#000" stroke-width="0.9" />
<line x1="230.5" y1="432" x2="230.5" y2="448.7" stroke="#000" stroke-width="0.9" />
<line x1="210.2" y1="437.7" x2="234.2" y2="437.7" stroke="#000" stroke-width="0.9" />
<line x1="211.6" y1="439.3" x2="214.8" y2="436.1" stroke="#000" stroke-width="1.0" />
<line x1="216.3" y1="439.3" x2="219.5" y2="436.1" stroke="#000" stroke-width="1.0" />
<line x1="224.7" y1="439.3" x2="227.9" y2="436.1" stroke="#000" stroke-width="1.0" />
<line x1="228.9" y1="439.3" x2="232.1" y2="436.1" stroke="#000" stroke-width="1.0" />
<text x="201.7" y="435.5" font-size="8.5" font-family='"Liberation Sans", sans-serif' font-weight="normal" text-anchor="start" fill="#000" textLength="12" lengthAdjust="spacingAndGlyphs"  stroke="#000" stroke-width="0.22">250</text>
<text x="229.7" y="435.5" font-size="8.5" font-family='"Liberation Sans", sans-serif' font-weight="normal" text-anchor="start" fill="#000" textLength="12" lengthAdjust="spacingAndGlyphs"  stroke="#000" stroke-width="0.22">250</text>
<text x="217.2" y="447" font-size="9.5" font-family='"Liberation Sans", sans-serif' font-weight="normal" text-anchor="start" fill="#000" textLength="10" lengthAdjust="spacingAndGlyphs"  stroke="#000" stroke-width="0.22">500</text>
<text x="239.8" y="452" font-size="7.5" font-family='"Liberation Sans", sans-serif' font-weight="normal" text-anchor="start" fill="#000" textLength="10" lengthAdjust="spacingAndGlyphs" transform="rotate(-90 239.8 452)"  stroke="#000" stroke-width="0.22">100</text>
<text x="239.8" y="475" font-size="7.5" font-family='"Liberation Sans", sans-serif' font-weight="normal" text-anchor="start" fill="#000" textLength="12" lengthAdjust="spacingAndGlyphs" transform="rotate(-90 239.8 475)"  stroke="#000" stroke-width="0.22">500</text>
<line x1="242.8" y1="450" x2="242.8" y2="464" stroke="#000" stroke-width="0.9" />
<line x1="240.2" y1="463.6" x2="248.2" y2="463.6" stroke="#000" stroke-width="0.9" />
<line x1="240.2" y1="454.2" x2="246.2" y2="454.2" stroke="#000" stroke-width="0.9" />
<line x1="213.2" y1="475" x2="213.2" y2="496" stroke="#000" stroke-width="1.0" />
<line x1="230.5" y1="475" x2="230.5" y2="496" stroke="#000" stroke-width="1.3" />
<text x="214.7" y="488.3" font-size="8.5" font-family='"Liberation Sans", sans-serif' font-weight="normal" text-anchor="start" fill="#000" textLength="15" lengthAdjust="spacingAndGlyphs"  stroke="#000" stroke-width="0.22">1000</text>
<rect x="313.6" y="452.6" width="17.5" height="11" fill="#fff" stroke="#000" stroke-width="1.5"/>
<rect x="314.6" y="453.6" width="15.5" height="9" fill="#444"/>
<path d="M316.1,456.3 h3 m2,0 h2.5 m2,0 h3 M315.6,460 h2.5 m2,0 h3.5 m2,0 h3" stroke="#fff" stroke-width="1.3"/>
<rect x="313.1" y="450.6" width="5" height="2.4" fill="#000"/><rect x="326.6" y="450.6" width="5" height="2.4" fill="#000"/>
<line x1="313.6" y1="432" x2="313.6" y2="448.7" stroke="#000" stroke-width="0.9" />
<line x1="318.3" y1="432" x2="318.3" y2="448.7" stroke="#000" stroke-width="0.9" />
<line x1="326.7" y1="432" x2="326.7" y2="448.7" stroke="#000" stroke-width="0.9" />
<line x1="330.9" y1="432" x2="330.9" y2="448.7" stroke="#000" stroke-width="0.9" />
<line x1="310.6" y1="437.7" x2="334.6" y2="437.7" stroke="#000" stroke-width="0.9" />
<line x1="312" y1="439.3" x2="315.2" y2="436.1" stroke="#000" stroke-width="1.0" />
<line x1="316.7" y1="439.3" x2="319.9" y2="436.1" stroke="#000" stroke-width="1.0" />
<line x1="325.1" y1="439.3" x2="328.3" y2="436.1" stroke="#000" stroke-width="1.0" />
<line x1="329.3" y1="439.3" x2="332.5" y2="436.1" stroke="#000" stroke-width="1.0" />
<text x="302.1" y="435.5" font-size="8.5" font-family='"Liberation Sans", sans-serif' font-weight="normal" text-anchor="start" fill="#000" textLength="12" lengthAdjust="spacingAndGlyphs"  stroke="#000" stroke-width="0.22">250</text>
<text x="330.1" y="435.5" font-size="8.5" font-family='"Liberation Sans", sans-serif' font-weight="normal" text-anchor="start" fill="#000" textLength="12" lengthAdjust="spacingAndGlyphs"  stroke="#000" stroke-width="0.22">250</text>
<text x="317.6" y="447" font-size="9.5" font-family='"Liberation Sans", sans-serif' font-weight="normal" text-anchor="start" fill="#000" textLength="10" lengthAdjust="spacingAndGlyphs"  stroke="#000" stroke-width="0.22">500</text>
<text x="340.2" y="452" font-size="7.5" font-family='"Liberation Sans", sans-serif' font-weight="normal" text-anchor="start" fill="#000" textLength="10" lengthAdjust="spacingAndGlyphs" transform="rotate(-90 340.2 452)"  stroke="#000" stroke-width="0.22">100</text>
<text x="340.2" y="475" font-size="7.5" font-family='"Liberation Sans", sans-serif' font-weight="normal" text-anchor="start" fill="#000" textLength="12" lengthAdjust="spacingAndGlyphs" transform="rotate(-90 340.2 475)"  stroke="#000" stroke-width="0.22">500</text>
<line x1="343.2" y1="450" x2="343.2" y2="464" stroke="#000" stroke-width="0.9" />
<line x1="340.6" y1="463.6" x2="348.6" y2="463.6" stroke="#000" stroke-width="0.9" />
<line x1="340.6" y1="454.2" x2="346.6" y2="454.2" stroke="#000" stroke-width="0.9" />
<line x1="313.6" y1="475" x2="313.6" y2="496" stroke="#000" stroke-width="1.0" />
<line x1="330.9" y1="475" x2="330.9" y2="496" stroke="#000" stroke-width="1.3" />
<text x="315.1" y="488.3" font-size="8.5" font-family='"Liberation Sans", sans-serif' font-weight="normal" text-anchor="start" fill="#000" textLength="15" lengthAdjust="spacingAndGlyphs"  stroke="#000" stroke-width="0.22">1000</text>
<rect x="413.6" y="452.6" width="17.5" height="11" fill="#fff" stroke="#000" stroke-width="1.5"/>
<rect x="414.6" y="453.6" width="15.5" height="9" fill="#444"/>
<path d="M416.1,456.3 h3 m2,0 h2.5 m2,0 h3 M415.6,460 h2.5 m2,0 h3.5 m2,0 h3" stroke="#fff" stroke-width="1.3"/>
<rect x="413.1" y="450.6" width="5" height="2.4" fill="#000"/><rect x="426.6" y="450.6" width="5" height="2.4" fill="#000"/>
<line x1="413.6" y1="432" x2="413.6" y2="448.7" stroke="#000" stroke-width="0.9" />
<line x1="418.3" y1="432" x2="418.3" y2="448.7" stroke="#000" stroke-width="0.9" />
<line x1="426.7" y1="432" x2="426.7" y2="448.7" stroke="#000" stroke-width="0.9" />
<line x1="430.9" y1="432" x2="430.9" y2="448.7" stroke="#000" stroke-width="0.9" />
<line x1="410.6" y1="437.7" x2="434.6" y2="437.7" stroke="#000" stroke-width="0.9" />
<line x1="412" y1="439.3" x2="415.2" y2="436.1" stroke="#000" stroke-width="1.0" />
<line x1="416.7" y1="439.3" x2="419.9" y2="436.1" stroke="#000" stroke-width="1.0" />
<line x1="425.1" y1="439.3" x2="428.3" y2="436.1" stroke="#000" stroke-width="1.0" />
<line x1="429.3" y1="439.3" x2="432.5" y2="436.1" stroke="#000" stroke-width="1.0" />
<text x="402.1" y="435.5" font-size="8.5" font-family='"Liberation Sans", sans-serif' font-weight="normal" text-anchor="start" fill="#000" textLength="12" lengthAdjust="spacingAndGlyphs"  stroke="#000" stroke-width="0.22">250</text>
<text x="430.1" y="435.5" font-size="8.5" font-family='"Liberation Sans", sans-serif' font-weight="normal" text-anchor="start" fill="#000" textLength="12" lengthAdjust="spacingAndGlyphs"  stroke="#000" stroke-width="0.22">250</text>
<text x="417.6" y="447" font-size="9.5" font-family='"Liberation Sans", sans-serif' font-weight="normal" text-anchor="start" fill="#000" textLength="10" lengthAdjust="spacingAndGlyphs"  stroke="#000" stroke-width="0.22">500</text>
<text x="440.2" y="452" font-size="7.5" font-family='"Liberation Sans", sans-serif' font-weight="normal" text-anchor="start" fill="#000" textLength="10" lengthAdjust="spacingAndGlyphs" transform="rotate(-90 440.2 452)"  stroke="#000" stroke-width="0.22">100</text>
<text x="440.2" y="475" font-size="7.5" font-family='"Liberation Sans", sans-serif' font-weight="normal" text-anchor="start" fill="#000" textLength="12" lengthAdjust="spacingAndGlyphs" transform="rotate(-90 440.2 475)"  stroke="#000" stroke-width="0.22">500</text>
<line x1="443.2" y1="450" x2="443.2" y2="464" stroke="#000" stroke-width="0.9" />
<line x1="440.6" y1="463.6" x2="448.6" y2="463.6" stroke="#000" stroke-width="0.9" />
<line x1="440.6" y1="454.2" x2="446.6" y2="454.2" stroke="#000" stroke-width="0.9" />
<line x1="413.6" y1="475" x2="413.6" y2="496" stroke="#000" stroke-width="1.0" />
<line x1="430.9" y1="475" x2="430.9" y2="496" stroke="#000" stroke-width="1.3" />
<text x="415.1" y="488.3" font-size="8.5" font-family='"Liberation Sans", sans-serif' font-weight="normal" text-anchor="start" fill="#000" textLength="15" lengthAdjust="spacingAndGlyphs"  stroke="#000" stroke-width="0.22">1000</text>
<rect x="513.3" y="452.6" width="17.5" height="11" fill="#fff" stroke="#000" stroke-width="1.5"/>
<rect x="514.3" y="453.6" width="15.5" height="9" fill="#444"/>
<path d="M515.8,456.3 h3 m2,0 h2.5 m2,0 h3 M515.3,460 h2.5 m2,0 h3.5 m2,0 h3" stroke="#fff" stroke-width="1.3"/>
<rect x="512.8" y="450.6" width="5" height="2.4" fill="#000"/><rect x="526.3" y="450.6" width="5" height="2.4" fill="#000"/>
<line x1="513.3" y1="432" x2="513.3" y2="448.7" stroke="#000" stroke-width="0.9" />
<line x1="518" y1="432" x2="518" y2="448.7" stroke="#000" stroke-width="0.9" />
<line x1="526.4" y1="432" x2="526.4" y2="448.7" stroke="#000" stroke-width="0.9" />
<line x1="530.6" y1="432" x2="530.6" y2="448.7" stroke="#000" stroke-width="0.9" />
<line x1="510.3" y1="437.7" x2="534.3" y2="437.7" stroke="#000" stroke-width="0.9" />
<line x1="511.7" y1="439.3" x2="514.9" y2="436.1" stroke="#000" stroke-width="1.0" />
<line x1="516.4" y1="439.3" x2="519.6" y2="436.1" stroke="#000" stroke-width="1.0" />
<line x1="524.8" y1="439.3" x2="528" y2="436.1" stroke="#000" stroke-width="1.0" />
<line x1="529" y1="439.3" x2="532.2" y2="436.1" stroke="#000" stroke-width="1.0" />
<text x="501.8" y="435.5" font-size="8.5" font-family='"Liberation Sans", sans-serif' font-weight="normal" text-anchor="start" fill="#000" textLength="12" lengthAdjust="spacingAndGlyphs"  stroke="#000" stroke-width="0.22">250</text>
<text x="529.8" y="435.5" font-size="8.5" font-family='"Liberation Sans", sans-serif' font-weight="normal" text-anchor="start" fill="#000" textLength="12" lengthAdjust="spacingAndGlyphs"  stroke="#000" stroke-width="0.22">250</text>
<text x="517.3" y="447" font-size="9.5" font-family='"Liberation Sans", sans-serif' font-weight="normal" text-anchor="start" fill="#000" textLength="10" lengthAdjust="spacingAndGlyphs"  stroke="#000" stroke-width="0.22">500</text>
<text x="539.9" y="452" font-size="7.5" font-family='"Liberation Sans", sans-serif' font-weight="normal" text-anchor="start" fill="#000" textLength="10" lengthAdjust="spacingAndGlyphs" transform="rotate(-90 539.9 452)"  stroke="#000" stroke-width="0.22">100</text>
<text x="539.9" y="475" font-size="7.5" font-family='"Liberation Sans", sans-serif' font-weight="normal" text-anchor="start" fill="#000" textLength="12" lengthAdjust="spacingAndGlyphs" transform="rotate(-90 539.9 475)"  stroke="#000" stroke-width="0.22">500</text>
<line x1="542.9" y1="450" x2="542.9" y2="464" stroke="#000" stroke-width="0.9" />
<line x1="540.3" y1="463.6" x2="548.3" y2="463.6" stroke="#000" stroke-width="0.9" />
<line x1="540.3" y1="454.2" x2="546.3" y2="454.2" stroke="#000" stroke-width="0.9" />
<line x1="513.3" y1="475" x2="513.3" y2="496" stroke="#000" stroke-width="1.0" />
<line x1="530.6" y1="475" x2="530.6" y2="496" stroke="#000" stroke-width="1.3" />
<text x="514.8" y="488.3" font-size="8.5" font-family='"Liberation Sans", sans-serif' font-weight="normal" text-anchor="start" fill="#000" textLength="15" lengthAdjust="spacingAndGlyphs"  stroke="#000" stroke-width="0.22">1000</text>
<line x1="211.7" y1="489.8" x2="532.6" y2="489.8" stroke="#000" stroke-width="1.0" />
<line x1="211.2" y1="491.8" x2="215.2" y2="487.8" stroke="#000" stroke-width="1.1" />
<line x1="228.5" y1="491.8" x2="232.5" y2="487.8" stroke="#000" stroke-width="1.1" />
<line x1="311.6" y1="491.8" x2="315.6" y2="487.8" stroke="#000" stroke-width="1.1" />
<line x1="328.9" y1="491.8" x2="332.9" y2="487.8" stroke="#000" stroke-width="1.1" />
<line x1="411.6" y1="491.8" x2="415.6" y2="487.8" stroke="#000" stroke-width="1.1" />
<line x1="428.9" y1="491.8" x2="432.9" y2="487.8" stroke="#000" stroke-width="1.1" />
<line x1="511.3" y1="491.8" x2="515.3" y2="487.8" stroke="#000" stroke-width="1.1" />
<line x1="528.6" y1="491.8" x2="532.6" y2="487.8" stroke="#000" stroke-width="1.1" />
<text x="272.05" y="488.3" font-size="8.5" font-family='"Liberation Sans", sans-serif' font-weight="normal" text-anchor="middle" fill="#000" textLength="16" lengthAdjust="spacingAndGlyphs"  stroke="#000" stroke-width="0.22">2000</text>
<text x="372.25" y="488.3" font-size="8.5" font-family='"Liberation Sans", sans-serif' font-weight="normal" text-anchor="middle" fill="#000" textLength="16" lengthAdjust="spacingAndGlyphs"  stroke="#000" stroke-width="0.22">2000</text>
<text x="472.1" y="488.3" font-size="8.5" font-family='"Liberation Sans", sans-serif' font-weight="normal" text-anchor="middle" fill="#000" textLength="16" lengthAdjust="spacingAndGlyphs"  stroke="#000" stroke-width="0.22">2000</text>
<text x="331" y="528" font-size="25" font-family='"Liberation Sans", sans-serif' font-weight="bold" text-anchor="start" fill="#000" textLength="27" lengthAdjust="spacingAndGlyphs" stroke="#000" stroke-width="0.3">1-1</text>
<text x="360.5" y="527" font-size="23" font-family='"Liberation Sans", sans-serif' font-weight="bold" text-anchor="start" fill="#000" textLength="60" lengthAdjust="spacingAndGlyphs" stroke="#000" stroke-width="0.5">剖面图</text>
<rect x="326" y="532.6" width="100.6" height="2.2" fill="#000"/>
<text x="820.3" y="107" font-size="20.5" font-family='"Liberation Sans", sans-serif' font-weight="bold" text-anchor="start" fill="#000" textLength="103.7" lengthAdjust="spacingAndGlyphs" stroke="#000" stroke-width="0.5">边坡设计说明</text>
<rect x="817" y="112.5" width="111.7" height="2.2" fill="#000"/>
<text x="809" y="137.2" font-size="11.2" font-family='"Liberation Sans", sans-serif' font-weight="bold" text-anchor="start" fill="#000" textLength="363.6" lengthAdjust="spacingAndGlyphs" >1、厂区西侧和北侧的填方边坡、挖方边坡采用浆砌块石骨架、骨架内植被护坡；厂区各单体开挖</text>
<text x="822" y="159.2" font-size="11.2" font-family='"Liberation Sans", sans-serif' font-weight="bold" text-anchor="start" fill="#000" textLength="379" lengthAdjust="spacingAndGlyphs" >开挖护坡采用挂网喷浆。厂区东侧应与外部道路同时施工，避免形成边坡。骨架护坡采用MU30块石，</text>
<text x="822" y="181.8" font-size="11.2" font-family='"Liberation Sans", sans-serif' font-weight="bold" text-anchor="start" fill="#000" textLength="350.6" lengthAdjust="spacingAndGlyphs" >M7.5水泥砂浆砌骨架。在骨架内植草，使草皮和土体密贴，防止表水沿接触处将草皮冲毁。</text>
<text x="809" y="204.2" font-size="11.2" font-family='"Liberation Sans", sans-serif' font-weight="bold" text-anchor="start" fill="#000" textLength="363.6" lengthAdjust="spacingAndGlyphs" >2、填方区的填筑要求：在填筑前应清除表土，清除表层土中的树根、杂草、杂物、垃圾等，表土</text>
<text x="823.5" y="228" font-size="11.2" font-family='"Liberation Sans", sans-serif' font-weight="bold" text-anchor="start" fill="#000" textLength="342.5" lengthAdjust="spacingAndGlyphs" >层的厚度视情况而定（一般为30cm）。然后分层回填并碾压夯实，压实系数不得小于0.9。</text>
<text x="809" y="250.2" font-size="11.2" font-family='"Liberation Sans", sans-serif' font-weight="bold" text-anchor="start" fill="#000" textLength="217" lengthAdjust="spacingAndGlyphs" >3、填方边坡、挖方边坡的坡比按工艺总图施的要求执行。</text>
<line x1="771.9" y1="527.5" x2="819.5" y2="527.5" stroke="#000" stroke-width="1.0" />
<line x1="784" y1="531" x2="789" y2="527.5" stroke="#000" stroke-width="0.8" />
<line x1="789" y1="531" x2="794" y2="527.5" stroke="#000" stroke-width="0.8" />
<line x1="794" y1="531" x2="799" y2="527.5" stroke="#000" stroke-width="0.8" />
<line x1="799" y1="531" x2="804" y2="527.5" stroke="#000" stroke-width="0.8" />
<line x1="804" y1="531" x2="809" y2="527.5" stroke="#000" stroke-width="0.8" />
<line x1="809" y1="531" x2="814" y2="527.5" stroke="#000" stroke-width="0.8" />
<rect x="819.5" y="527.5" width="20.3" height="22.3" fill="#fff" stroke="#000" stroke-width="1.2"/>
<rect x="820.5" y="528.5" width="18.3" height="4" fill="#ddd" stroke="none"/>
<rect x="819.5" y="542.7" width="41.5" height="7.1" fill="#e4e4e4" stroke="#000" stroke-width="1.2"/>
<path d="M821,541 L838,532" stroke="#666" stroke-width="0.6" fill="none" stroke-linejoin="miter" />
<clipPath id="rb1"><path d="M873.3,515.4 L886.5,515.4 L886.5,549.8 L861,549.8 Z"/></clipPath>
<path d="M873.3,515.4 L886.5,515.4 L886.5,549.8 L861,549.8 Z" fill="#b8b8b8" stroke="none"/>
<g clip-path="url(#rb1)">
<ellipse cx="863" cy="518.4" rx="2.3" ry="1.7" fill="#fff" stroke="#777" stroke-width="0.5"/>
<ellipse cx="869" cy="518.4" rx="2.3" ry="1.7" fill="#fff" stroke="#777" stroke-width="0.5"/>
<ellipse cx="875" cy="518.4" rx="2.3" ry="1.7" fill="#fff" stroke="#777" stroke-width="0.5"/>
<ellipse cx="881" cy="518.4" rx="2.3" ry="1.7" fill="#fff" stroke="#777" stroke-width="0.5"/>
<ellipse cx="866" cy="522.9" rx="2.3" ry="1.7" fill="#fff" stroke="#777" stroke-width="0.5"/>
<ellipse cx="872" cy="522.9" rx="2.3" ry="1.7" fill="#fff" stroke="#777" stroke-width="0.5"/>
<ellipse cx="878" cy="522.9" rx="2.3" ry="1.7" fill="#fff" stroke="#777" stroke-width="0.5"/>
<ellipse cx="884" cy="522.9" rx="2.3" ry="1.7" fill="#fff" stroke="#777" stroke-width="0.5"/>
<ellipse cx="863" cy="527.4" rx="2.3" ry="1.7" fill="#fff" stroke="#777" stroke-width="0.5"/>
<ellipse cx="869" cy="527.4" rx="2.3" ry="1.7" fill="#fff" stroke="#777" stroke-width="0.5"/>
<ellipse cx="875" cy="527.4" rx="2.3" ry="1.7" fill="#fff" stroke="#777" stroke-width="0.5"/>
<ellipse cx="881" cy="527.4" rx="2.3" ry="1.7" fill="#fff" stroke="#777" stroke-width="0.5"/>
<ellipse cx="866" cy="531.9" rx="2.3" ry="1.7" fill="#fff" stroke="#777" stroke-width="0.5"/>
<ellipse cx="872" cy="531.9" rx="2.3" ry="1.7" fill="#fff" stroke="#777" stroke-width="0.5"/>
<ellipse cx="878" cy="531.9" rx="2.3" ry="1.7" fill="#fff" stroke="#777" stroke-width="0.5"/>
<ellipse cx="884" cy="531.9" rx="2.3" ry="1.7" fill="#fff" stroke="#777" stroke-width="0.5"/>
<ellipse cx="863" cy="536.4" rx="2.3" ry="1.7" fill="#fff" stroke="#777" stroke-width="0.5"/>
<ellipse cx="869" cy="536.4" rx="2.3" ry="1.7" fill="#fff" stroke="#777" stroke-width="0.5"/>
<ellipse cx="875" cy="536.4" rx="2.3" ry="1.7" fill="#fff" stroke="#777" stroke-width="0.5"/>
<ellipse cx="881" cy="536.4" rx="2.3" ry="1.7" fill="#fff" stroke="#777" stroke-width="0.5"/>
<ellipse cx="866" cy="540.9" rx="2.3" ry="1.7" fill="#fff" stroke="#777" stroke-width="0.5"/>
<ellipse cx="872" cy="540.9" rx="2.3" ry="1.7" fill="#fff" stroke="#777" stroke-width="0.5"/>
<ellipse cx="878" cy="540.9" rx="2.3" ry="1.7" fill="#fff" stroke="#777" stroke-width="0.5"/>
<ellipse cx="884" cy="540.9" rx="2.3" ry="1.7" fill="#fff" stroke="#777" stroke-width="0.5"/>
<ellipse cx="863" cy="545.4" rx="2.3" ry="1.7" fill="#fff" stroke="#777" stroke-width="0.5"/>
<ellipse cx="869" cy="545.4" rx="2.3" ry="1.7" fill="#fff" stroke="#777" stroke-width="0.5"/>
<ellipse cx="875" cy="545.4" rx="2.3" ry="1.7" fill="#fff" stroke="#777" stroke-width="0.5"/>
<ellipse cx="881" cy="545.4" rx="2.3" ry="1.7" fill="#fff" stroke="#777" stroke-width="0.5"/>
</g>
<path d="M873.3,515.4 L886.5,515.4 L886.5,549.8 L861,549.8 Z" fill="none" stroke="#000" stroke-width="1.3"/>
<line x1="887.45" y1="515.54" x2="1094.45" y2="342.04" stroke="#000" stroke-width="2.9" />
<line x1="887.64" y1="515.77" x2="1094.64" y2="342.27" stroke="#fff" stroke-width="0.6" stroke-dasharray="1 7"/>
<g transform="translate(968.27 448.19) rotate(-39.97)"><rect x="-4" y="-4" width="8" height="8" fill="#fff" stroke="#000" stroke-width="1.5"/><path d="M-4,-4 L4,4 M-4,4 L4,-4" stroke="#000" stroke-width="0.9"/><circle cx="0" cy="-2" r="1.2" fill="#fff" stroke="#000" stroke-width="0.8"/></g>
<g transform="translate(1040 388.06) rotate(-39.97)"><rect x="-4" y="-4" width="8" height="8" fill="#fff" stroke="#000" stroke-width="1.5"/><path d="M-4,-4 L4,4 M-4,4 L4,-4" stroke="#000" stroke-width="0.9"/><circle cx="0" cy="-2" r="1.2" fill="#fff" stroke="#000" stroke-width="0.8"/></g>
<g transform="translate(1093 344) rotate(-39.97)"><rect x="-4.5" y="-4.5" width="9" height="9" fill="#fff" stroke="#000" stroke-width="1.5"/><path d="M-4.5,-4.5 L4.5,4.5 M-4.5,4.5 L4.5,-4.5" stroke="#000" stroke-width="0.9"/><circle cx="0" cy="-2.25" r="1.2" fill="#fff" stroke="#000" stroke-width="0.8"/></g>
<path d="M1093.3,338 L1110.5,334.3 L1135,328 L1159.4,312.6 L1164.9,312.6 L1176.6,323.5 L1186.6,323.5 L1199.3,310.8 L1203,310" stroke="#000" stroke-width="1.2" fill="none" stroke-linejoin="miter" />
<path d="M1093.85,340.54 L1111.11,336.83 L1136.05,330.38 L1160.59,314.91 L1163.51,314.8 L1175.43,325.82 L1187.87,325.77 L1200.95,312.81 L1203.55,312.54" stroke="#000" stroke-width="1.2" fill="none" stroke-linejoin="miter" />
<line x1="1203" y1="310" x2="1234.6" y2="301.7" stroke="#000" stroke-width="1.0" />
<line x1="890.97" y1="490.01" x2="1033.37" y2="370.66" stroke="#000" stroke-width="0.9" />
<line x1="888.77" y1="492.21" x2="893.17" y2="487.81" stroke="#000" stroke-width="1.1" />
<line x1="888.15" y1="486.64" x2="896.5" y2="496.6" stroke="#000" stroke-width="0.8" />
<line x1="954" y1="437.54" x2="958.4" y2="433.14" stroke="#000" stroke-width="1.1" />
<line x1="953.37" y1="431.97" x2="961.72" y2="441.93" stroke="#000" stroke-width="0.8" />
<line x1="958.9" y1="433.43" x2="963.3" y2="429.03" stroke="#000" stroke-width="1.1" />
<line x1="958.27" y1="427.86" x2="966.62" y2="437.82" stroke="#000" stroke-width="0.8" />
<line x1="1026.27" y1="376.97" x2="1030.67" y2="372.57" stroke="#000" stroke-width="1.1" />
<line x1="1025.64" y1="371.4" x2="1033.99" y2="381.36" stroke="#000" stroke-width="0.8" />
<line x1="1031.17" y1="372.86" x2="1035.57" y2="368.46" stroke="#000" stroke-width="1.1" />
<line x1="1030.55" y1="367.28" x2="1038.9" y2="377.25" stroke="#000" stroke-width="0.8" />
<text x="921.88" y="462.28" font-size="9.5" font-family='"Liberation Sans", sans-serif' font-weight="normal" text-anchor="middle" fill="#000" textLength="17" lengthAdjust="spacingAndGlyphs" transform="rotate(-39.97 921.88 462.28)"  stroke="#000" stroke-width="0.22">3000</text>
<text x="955.38" y="430.94" font-size="9.5" font-family='"Liberation Sans", sans-serif' font-weight="normal" text-anchor="middle" fill="#000" textLength="23" lengthAdjust="spacingAndGlyphs" transform="rotate(-39.97 955.38 430.94)"  stroke="#000" stroke-width="0.22">250 250</text>
<text x="992.47" y="403.12" font-size="9.5" font-family='"Liberation Sans", sans-serif' font-weight="normal" text-anchor="middle" fill="#000" textLength="17" lengthAdjust="spacingAndGlyphs" transform="rotate(-39.97 992.47 403.12)"  stroke="#000" stroke-width="0.22">3000</text>
<text x="1027.11" y="370.82" font-size="9.5" font-family='"Liberation Sans", sans-serif' font-weight="normal" text-anchor="middle" fill="#000" textLength="23" lengthAdjust="spacingAndGlyphs" transform="rotate(-39.97 1027.11 370.82)"  stroke="#000" stroke-width="0.22">250 250</text>
<text x="1012.19" y="404.85" font-size="11.5" font-family='"Liberation Sans", sans-serif' font-weight="normal" text-anchor="middle" fill="#000" textLength="52" lengthAdjust="spacingAndGlyphs" transform="rotate(-39.97 1012.19 404.85)"  stroke="#000" stroke-width="0.22">填方<1:1.75</text>
<text x="1018.67" y="418.34" font-size="11.5" font-family='"Liberation Sans", sans-serif' font-weight="normal" text-anchor="middle" fill="#000" textLength="44" lengthAdjust="spacingAndGlyphs" transform="rotate(-39.97 1018.67 418.34)"  stroke="#000" stroke-width="0.22">挖方<1:1.5</text>
<text x="1015.29" y="427.7" font-size="6.5" font-family='"Liberation Sans", sans-serif' font-weight="bold" text-anchor="middle" fill="#000" textLength="11" lengthAdjust="spacingAndGlyphs" transform="rotate(-39.97 1015.29 427.7)" >坡率</text>
<text x="1078" y="335" font-size="8" font-family='"Liberation Sans", sans-serif' font-weight="normal" text-anchor="start" fill="#000" textLength="12" lengthAdjust="spacingAndGlyphs" transform="rotate(-39.97 1078 335)"  stroke="#000" stroke-width="0.22">500</text>
<line x1="1070" y1="333" x2="1082" y2="347" stroke="#000" stroke-width="0.8" />
<line x1="1085" y1="320" x2="1096" y2="333" stroke="#000" stroke-width="0.8" />
<line x1="1074" y1="338" x2="1089" y2="325" stroke="#000" stroke-width="0.8" />
<path d="M975,455 L991.3,466 L1084.6,466" stroke="#000" stroke-width="0.9" fill="none" stroke-linejoin="miter" />
<text x="991.5" y="464.5" font-size="7.5" font-family='"Liberation Sans", sans-serif' font-weight="normal" text-anchor="start" fill="#000" textLength="92" lengthAdjust="spacingAndGlyphs"  stroke="#000" stroke-width="0.22">M7.5水泥砂浆砌MU30块石拱型骨架</text>
<path d="M1094,346 L1104,363 L1124,363" stroke="#000" stroke-width="0.9" fill="none" stroke-linejoin="miter" />
<text x="1105" y="361.5" font-size="7.5" font-family='"Liberation Sans", sans-serif' font-weight="normal" text-anchor="start" fill="#000" textLength="16" lengthAdjust="spacingAndGlyphs"  stroke="#000" stroke-width="0.22">锚 墩</text>
<line x1="1069.7" y1="297.2" x2="1167.6" y2="297.2" stroke="#000" stroke-width="0.9" />
<line x1="1069.7" y1="291.8" x2="1069.7" y2="312.6" stroke="#000" stroke-width="0.9" />
<line x1="1167.6" y1="291.8" x2="1167.6" y2="298" stroke="#000" stroke-width="0.9" />
<line x1="1067.7" y1="299.2" x2="1071.7" y2="295.2" stroke="#000" stroke-width="1.1" />
<line x1="1165.6" y1="299.2" x2="1169.6" y2="295.2" stroke="#000" stroke-width="1.1" />
<text x="1108.7" y="295.5" font-size="8.5" font-family='"Liberation Sans", sans-serif' font-weight="normal" text-anchor="start" fill="#000" textLength="20" lengthAdjust="spacingAndGlyphs"  stroke="#000" stroke-width="0.22">>1500</text>
<text x="1097" y="314" font-size="7.5" font-family='"Liberation Sans", sans-serif' font-weight="normal" text-anchor="start" fill="#000" textLength="39" lengthAdjust="spacingAndGlyphs"  stroke="#000" stroke-width="0.22">C20喷射混凝土</text>
<line x1="1096" y1="314.5" x2="1135" y2="314.5" stroke="#000" stroke-width="0.9" />
<line x1="1135" y1="314.5" x2="1141" y2="323.5" stroke="#000" stroke-width="0.9" />
<text x="1102" y="322.5" font-size="7.5" font-family='"Liberation Sans", sans-serif' font-weight="normal" text-anchor="start" fill="#000" textLength="17" lengthAdjust="spacingAndGlyphs"  stroke="#000" stroke-width="0.22">100厚</text>
<path d="M1181,319 L1193,336 L1216,336" stroke="#000" stroke-width="0.9" fill="none" stroke-linejoin="miter" />
<text x="1198" y="333.5" font-size="7.5" font-family='"Liberation Sans", sans-serif' font-weight="normal" text-anchor="start" fill="#000" textLength="16" lengthAdjust="spacingAndGlyphs"  stroke="#000" stroke-width="0.22">截水沟</text>
<text x="1206" y="311" font-size="6" font-family='"Liberation Sans", sans-serif' font-weight="bold" text-anchor="start" fill="#000" textLength="13" lengthAdjust="spacingAndGlyphs" >坡顶</text>
<line x1="873" y1="527" x2="873" y2="513" stroke="#000" stroke-width="0.8" />
<line x1="886.5" y1="512" x2="886.5" y2="506" stroke="#000" stroke-width="0.8" />
<line x1="872" y1="507.5" x2="889" y2="507.5" stroke="#000" stroke-width="0.9" />
<line x1="871" y1="509.5" x2="875" y2="505.5" stroke="#000" stroke-width="1.1" />
<line x1="884.5" y1="509.5" x2="888.5" y2="505.5" stroke="#000" stroke-width="1.1" />
<text x="874" y="505.5" font-size="8.5" font-family='"Liberation Sans", sans-serif' font-weight="normal" text-anchor="start" fill="#000" textLength="12" lengthAdjust="spacingAndGlyphs"  stroke="#000" stroke-width="0.22">500</text>
<path d="M819,517.5 L775,517.5" stroke="#000" stroke-width="0.9" fill="none" stroke-linejoin="miter" />
<path d="M819,517.5 L825,528" stroke="#000" stroke-width="0.9" fill="none" stroke-linejoin="miter" />
<text x="775" y="516" font-size="7.5" font-family='"Liberation Sans", sans-serif' font-weight="normal" text-anchor="start" fill="#000" textLength="44" lengthAdjust="spacingAndGlyphs"  stroke="#000" stroke-width="0.22">C20素混凝土压顶</text>
<path d="M719,547 L797,547 L822,535" stroke="#000" stroke-width="0.9" fill="none" stroke-linejoin="miter" />
<text x="719" y="545.5" font-size="7.5" font-family='"Liberation Sans", sans-serif' font-weight="normal" text-anchor="start" fill="#000" textLength="78" lengthAdjust="spacingAndGlyphs"  stroke="#000" stroke-width="0.22">MU40毛石、M10水泥砂浆砌筑</text>
<path d="M772,570 L803,570 L820,551" stroke="#000" stroke-width="0.9" fill="none" stroke-linejoin="miter" />
<text x="772" y="568.5" font-size="7.5" font-family='"Liberation Sans", sans-serif' font-weight="normal" text-anchor="start" fill="#000" textLength="31" lengthAdjust="spacingAndGlyphs"  stroke="#000" stroke-width="0.22">素混凝土垫层</text>
<path d="M887,535 L903.7,560.5 L976.7,560.5" stroke="#000" stroke-width="1.3" fill="none" stroke-linejoin="miter" />
<text x="903.7" y="569" font-size="7.5" font-family='"Liberation Sans", sans-serif' font-weight="normal" text-anchor="start" fill="#000" textLength="73" lengthAdjust="spacingAndGlyphs"  stroke="#000" stroke-width="0.22">MU40块石M10水泥砂浆砌筑</text>
<text x="925" y="558" font-size="6" font-family='"Liberation Sans", sans-serif' font-weight="bold" text-anchor="start" fill="#000" textLength="14" lengthAdjust="spacingAndGlyphs" >排水沟</text>
<line x1="925" y1="514" x2="948" y2="514" stroke="#000" stroke-width="0.9" />
<line x1="925" y1="550" x2="948" y2="550" stroke="#000" stroke-width="0.9" />
<line x1="940.2" y1="514" x2="940.2" y2="550" stroke="#000" stroke-width="0.9" />
<line x1="938.2" y1="516" x2="942.2" y2="512" stroke="#000" stroke-width="1.1" />
<line x1="938.2" y1="552" x2="942.2" y2="548" stroke="#000" stroke-width="1.1" />
<text x="939" y="540" font-size="8.5" font-family='"Liberation Sans", sans-serif' font-weight="normal" text-anchor="start" fill="#000" textLength="18" lengthAdjust="spacingAndGlyphs" transform="rotate(-90 939 540)"  stroke="#000" stroke-width="0.22">1000</text>
<line x1="853" y1="528" x2="856" y2="528" stroke="#000" stroke-width="0.8" />
<line x1="853" y1="543" x2="860" y2="543" stroke="#000" stroke-width="0.8" />
<line x1="854.5" y1="527" x2="854.5" y2="543" stroke="#000" stroke-width="0.8" />
<text x="853" y="540" font-size="8" font-family='"Liberation Sans", sans-serif' font-weight="normal" text-anchor="start" fill="#000" textLength="12" lengthAdjust="spacingAndGlyphs" transform="rotate(-90 853 540)"  stroke="#000" stroke-width="0.22">400</text>
<line x1="806" y1="527.5" x2="815" y2="527.5" stroke="#000" stroke-width="0.8" />
<line x1="806" y1="542.7" x2="815" y2="542.7" stroke="#000" stroke-width="0.8" />
<line x1="806" y1="549.8" x2="815" y2="549.8" stroke="#000" stroke-width="0.8" />
<line x1="810" y1="524" x2="810" y2="553" stroke="#000" stroke-width="0.8" />
<text x="808.5" y="538" font-size="7" font-family='"Liberation Sans", sans-serif' font-weight="normal" text-anchor="start" fill="#000" textLength="9" lengthAdjust="spacingAndGlyphs" transform="rotate(-90 808.5 538)"  stroke="#000" stroke-width="0.22">100</text>
<text x="808.5" y="553" font-size="7" font-family='"Liberation Sans", sans-serif' font-weight="normal" text-anchor="start" fill="#000" textLength="9" lengthAdjust="spacingAndGlyphs" transform="rotate(-90 808.5 553)"  stroke="#000" stroke-width="0.22">150</text>
<line x1="820.5" y1="559" x2="820.5" y2="576" stroke="#000" stroke-width="0.9" />
<line x1="818.5" y1="575.2" x2="822.5" y2="571.2" stroke="#000" stroke-width="1.1" />
<line x1="839.8" y1="559" x2="839.8" y2="576" stroke="#000" stroke-width="0.9" />
<line x1="837.8" y1="575.2" x2="841.8" y2="571.2" stroke="#000" stroke-width="1.1" />
<line x1="860" y1="559" x2="860" y2="576" stroke="#000" stroke-width="0.9" />
<line x1="858" y1="575.2" x2="862" y2="571.2" stroke="#000" stroke-width="1.1" />
<line x1="886.5" y1="559" x2="886.5" y2="576" stroke="#000" stroke-width="0.9" />
<line x1="884.5" y1="575.2" x2="888.5" y2="571.2" stroke="#000" stroke-width="1.1" />
<line x1="819" y1="573.2" x2="888" y2="573.2" stroke="#000" stroke-width="0.9" />
<text x="822" y="571" font-size="8.5" font-family='"Liberation Sans", sans-serif' font-weight="normal" text-anchor="start" fill="#000" textLength="13" lengthAdjust="spacingAndGlyphs"  stroke="#000" stroke-width="0.22">240</text>
<text x="843" y="571" font-size="8.5" font-family='"Liberation Sans", sans-serif' font-weight="normal" text-anchor="start" fill="#000" textLength="13" lengthAdjust="spacingAndGlyphs"  stroke="#000" stroke-width="0.22">400</text>
<text x="867" y="571" font-size="8.5" font-family='"Liberation Sans", sans-serif' font-weight="normal" text-anchor="start" fill="#000" textLength="13" lengthAdjust="spacingAndGlyphs"  stroke="#000" stroke-width="0.22">800</text>
<text x="977.5" y="597" font-size="25" font-family='"Liberation Sans", sans-serif' font-weight="bold" text-anchor="start" fill="#000" textLength="48" lengthAdjust="spacingAndGlyphs" stroke="#000" stroke-width="0.3">2'-2'</text>
<text x="1029" y="596" font-size="23" font-family='"Liberation Sans", sans-serif' font-weight="bold" text-anchor="start" fill="#000" textLength="60" lengthAdjust="spacingAndGlyphs" stroke="#000" stroke-width="0.5">剖面图</text>
<rect x="973" y="601.6" width="117" height="2.4" fill="#000"/>
<text x="974" y="612.5" font-size="6.8" font-family='"Liberation Sans", sans-serif' font-weight="bold" text-anchor="start" fill="#000" textLength="55.6" lengthAdjust="spacingAndGlyphs" >注：用于北侧填方边坡。</text>
<line x1="253" y1="845.3" x2="306" y2="845.3" stroke="#000" stroke-width="1.0" />
<line x1="263" y1="849" x2="268" y2="845.3" stroke="#000" stroke-width="0.8" />
<line x1="268" y1="849" x2="273" y2="845.3" stroke="#000" stroke-width="0.8" />
<line x1="273" y1="849" x2="278" y2="845.3" stroke="#000" stroke-width="0.8" />
<line x1="278" y1="849" x2="283" y2="845.3" stroke="#000" stroke-width="0.8" />
<line x1="283" y1="849" x2="288" y2="845.3" stroke="#000" stroke-width="0.8" />
<line x1="288" y1="849" x2="293" y2="845.3" stroke="#000" stroke-width="0.8" />
<rect x="306" y="844.8" width="15.7" height="22.6" fill="#fff" stroke="#000" stroke-width="1.2"/>
<rect x="307" y="845.8" width="13.7" height="3.5" fill="#ccc"/>
<path d="M308,857 L319,849" stroke="#555" stroke-width="0.7" fill="none" stroke-linejoin="miter" />
<rect x="306" y="859.6" width="37.5" height="7.8" fill="#fff" stroke="#000" stroke-width="1.2"/>
<line x1="309" y1="866" x2="313" y2="861" stroke="#000" stroke-width="0.9" />
<line x1="315" y1="866" x2="319" y2="861" stroke="#000" stroke-width="0.9" />
<line x1="321" y1="866" x2="325" y2="861" stroke="#000" stroke-width="0.9" />
<line x1="327" y1="866" x2="331" y2="861" stroke="#000" stroke-width="0.9" />
<line x1="333" y1="866" x2="337" y2="861" stroke="#000" stroke-width="0.9" />
<line x1="339" y1="866" x2="343" y2="861" stroke="#000" stroke-width="0.9" />
<clipPath id="rb2"><path d="M355.7,832.3 L368.7,832.3 L368.7,867.4 L343.5,867.4 Z"/></clipPath>
<path d="M355.7,832.3 L368.7,832.3 L368.7,867.4 L343.5,867.4 Z" fill="#b8b8b8" stroke="none"/>
<g clip-path="url(#rb2)">
<ellipse cx="345.5" cy="835.3" rx="2.3" ry="1.7" fill="#fff" stroke="#777" stroke-width="0.5"/>
<ellipse cx="351.5" cy="835.3" rx="2.3" ry="1.7" fill="#fff" stroke="#777" stroke-width="0.5"/>
<ellipse cx="357.5" cy="835.3" rx="2.3" ry="1.7" fill="#fff" stroke="#777" stroke-width="0.5"/>
<ellipse cx="363.5" cy="835.3" rx="2.3" ry="1.7" fill="#fff" stroke="#777" stroke-width="0.5"/>
<ellipse cx="348.5" cy="839.8" rx="2.3" ry="1.7" fill="#fff" stroke="#777" stroke-width="0.5"/>
<ellipse cx="354.5" cy="839.8" rx="2.3" ry="1.7" fill="#fff" stroke="#777" stroke-width="0.5"/>
<ellipse cx="360.5" cy="839.8" rx="2.3" ry="1.7" fill="#fff" stroke="#777" stroke-width="0.5"/>
<ellipse cx="366.5" cy="839.8" rx="2.3" ry="1.7" fill="#fff" stroke="#777" stroke-width="0.5"/>
<ellipse cx="345.5" cy="844.3" rx="2.3" ry="1.7" fill="#fff" stroke="#777" stroke-width="0.5"/>
<ellipse cx="351.5" cy="844.3" rx="2.3" ry="1.7" fill="#fff" stroke="#777" stroke-width="0.5"/>
<ellipse cx="357.5" cy="844.3" rx="2.3" ry="1.7" fill="#fff" stroke="#777" stroke-width="0.5"/>
<ellipse cx="363.5" cy="844.3" rx="2.3" ry="1.7" fill="#fff" stroke="#777" stroke-width="0.5"/>
<ellipse cx="348.5" cy="848.8" rx="2.3" ry="1.7" fill="#fff" stroke="#777" stroke-width="0.5"/>
<ellipse cx="354.5" cy="848.8" rx="2.3" ry="1.7" fill="#fff" stroke="#777" stroke-width="0.5"/>
<ellipse cx="360.5" cy="848.8" rx="2.3" ry="1.7" fill="#fff" stroke="#777" stroke-width="0.5"/>
<ellipse cx="366.5" cy="848.8" rx="2.3" ry="1.7" fill="#fff" stroke="#777" stroke-width="0.5"/>
<ellipse cx="345.5" cy="853.3" rx="2.3" ry="1.7" fill="#fff" stroke="#777" stroke-width="0.5"/>
<ellipse cx="351.5" cy="853.3" rx="2.3" ry="1.7" fill="#fff" stroke="#777" stroke-width="0.5"/>
<ellipse cx="357.5" cy="853.3" rx="2.3" ry="1.7" fill="#fff" stroke="#777" stroke-width="0.5"/>
<ellipse cx="363.5" cy="853.3" rx="2.3" ry="1.7" fill="#fff" stroke="#777" stroke-width="0.5"/>
<ellipse cx="348.5" cy="857.8" rx="2.3" ry="1.7" fill="#fff" stroke="#777" stroke-width="0.5"/>
<ellipse cx="354.5" cy="857.8" rx="2.3" ry="1.7" fill="#fff" stroke="#777" stroke-width="0.5"/>
<ellipse cx="360.5" cy="857.8" rx="2.3" ry="1.7" fill="#fff" stroke="#777" stroke-width="0.5"/>
<ellipse cx="366.5" cy="857.8" rx="2.3" ry="1.7" fill="#fff" stroke="#777" stroke-width="0.5"/>
<ellipse cx="345.5" cy="862.3" rx="2.3" ry="1.7" fill="#fff" stroke="#777" stroke-width="0.5"/>
<ellipse cx="351.5" cy="862.3" rx="2.3" ry="1.7" fill="#fff" stroke="#777" stroke-width="0.5"/>
<ellipse cx="357.5" cy="862.3" rx="2.3" ry="1.7" fill="#fff" stroke="#777" stroke-width="0.5"/>
<ellipse cx="363.5" cy="862.3" rx="2.3" ry="1.7" fill="#fff" stroke="#777" stroke-width="0.5"/>
<ellipse cx="348.5" cy="866.8" rx="2.3" ry="1.7" fill="#fff" stroke="#777" stroke-width="0.5"/>
<ellipse cx="354.5" cy="866.8" rx="2.3" ry="1.7" fill="#fff" stroke="#777" stroke-width="0.5"/>
<ellipse cx="360.5" cy="866.8" rx="2.3" ry="1.7" fill="#fff" stroke="#777" stroke-width="0.5"/>
<ellipse cx="366.5" cy="866.8" rx="2.3" ry="1.7" fill="#fff" stroke="#777" stroke-width="0.5"/>
</g>
<path d="M355.7,832.3 L368.7,832.3 L368.7,867.4 L343.5,867.4 Z" fill="none" stroke="#000" stroke-width="1.3"/>
<line x1="368.36" y1="832.73" x2="528.96" y2="695.03" stroke="#000" stroke-width="2.9" />
<line x1="368.55" y1="832.96" x2="529.15" y2="695.26" stroke="#fff" stroke-width="0.6" stroke-dasharray="1 7"/>
<g transform="translate(451.6 765.8) rotate(-40.61)"><rect x="-4" y="-4" width="8" height="8" fill="#fff" stroke="#000" stroke-width="1.5"/><path d="M-4,-4 L4,4 M-4,4 L4,-4" stroke="#000" stroke-width="0.9"/><circle cx="0" cy="-2" r="1.2" fill="#fff" stroke="#000" stroke-width="0.8"/></g>
<g transform="translate(521 705.8) rotate(-40.61)"><rect x="-4" y="-4" width="8" height="8" fill="#fff" stroke="#000" stroke-width="1.5"/><path d="M-4,-4 L4,4 M-4,4 L4,-4" stroke="#000" stroke-width="0.9"/><circle cx="0" cy="-2" r="1.2" fill="#fff" stroke="#000" stroke-width="0.8"/></g>
<g transform="translate(533 696.5) rotate(-40.61)"><rect x="-3.5" y="-3.5" width="7" height="7" fill="#fff" stroke="#000" stroke-width="1.5"/><path d="M-3.5,-3.5 L3.5,3.5 M-3.5,3.5 L3.5,-3.5" stroke="#000" stroke-width="0.9"/><circle cx="0" cy="-1.75" r="1.2" fill="#fff" stroke="#000" stroke-width="0.8"/></g>
<line x1="371.82" y1="806.97" x2="507.41" y2="690.72" stroke="#000" stroke-width="0.9" />
<line x1="369.62" y1="809.17" x2="374.02" y2="804.77" stroke="#000" stroke-width="1.1" />
<line x1="368.96" y1="803.63" x2="377.42" y2="813.5" stroke="#000" stroke-width="0.8" />
<line x1="434.38" y1="753.65" x2="438.78" y2="749.25" stroke="#000" stroke-width="1.1" />
<line x1="433.71" y1="748.11" x2="442.18" y2="757.98" stroke="#000" stroke-width="0.8" />
<line x1="440.3" y1="748.57" x2="444.7" y2="744.17" stroke="#000" stroke-width="1.1" />
<line x1="439.64" y1="743.03" x2="448.1" y2="752.9" stroke="#000" stroke-width="0.8" />
<line x1="499.13" y1="698.13" x2="503.53" y2="693.73" stroke="#000" stroke-width="1.1" />
<line x1="498.47" y1="692.59" x2="506.93" y2="702.45" stroke="#000" stroke-width="0.8" />
<line x1="505.21" y1="692.92" x2="509.61" y2="688.52" stroke="#000" stroke-width="1.1" />
<line x1="504.54" y1="687.38" x2="513.01" y2="697.25" stroke="#000" stroke-width="0.8" />
<text x="402.82" y="779.21" font-size="9.5" font-family='"Liberation Sans", sans-serif' font-weight="normal" text-anchor="middle" fill="#000" textLength="17" lengthAdjust="spacingAndGlyphs" transform="rotate(-40.61 402.82 779.21)"  stroke="#000" stroke-width="0.22">3000</text>
<text x="437.2" y="747.1" font-size="9.5" font-family='"Liberation Sans", sans-serif' font-weight="normal" text-anchor="middle" fill="#000" textLength="23" lengthAdjust="spacingAndGlyphs" transform="rotate(-40.61 437.2 747.1)"  stroke="#000" stroke-width="0.22">250 250</text>
<text x="473.52" y="719.25" font-size="9.5" font-family='"Liberation Sans", sans-serif' font-weight="normal" text-anchor="middle" fill="#000" textLength="17" lengthAdjust="spacingAndGlyphs" transform="rotate(-40.61 473.52 719.25)"  stroke="#000" stroke-width="0.22">3000</text>
<text x="502.48" y="691.12" font-size="9.5" font-family='"Liberation Sans", sans-serif' font-weight="normal" text-anchor="middle" fill="#000" textLength="23" lengthAdjust="spacingAndGlyphs" transform="rotate(-40.61 502.48 691.12)"  stroke="#000" stroke-width="0.22">250 250</text>
<text x="489.94" y="742.71" font-size="11.5" font-family='"Liberation Sans", sans-serif' font-weight="normal" text-anchor="middle" fill="#000" textLength="50" lengthAdjust="spacingAndGlyphs" transform="rotate(-40.61 489.94 742.71)"  stroke="#000" stroke-width="0.22">挖方坡<1:1.5</text>
<text x="500.77" y="743.96" font-size="6.5" font-family='"Liberation Sans", sans-serif' font-weight="bold" text-anchor="middle" fill="#000" textLength="11" lengthAdjust="spacingAndGlyphs" transform="rotate(-40.61 500.77 743.96)" >坡率</text>
<path d="M455,771 L473.3,781.3 L565.8,781.3" stroke="#000" stroke-width="0.9" fill="none" stroke-linejoin="miter" />
<text x="473.5" y="779.8" font-size="7.5" font-family='"Liberation Sans", sans-serif' font-weight="normal" text-anchor="start" fill="#000" textLength="92" lengthAdjust="spacingAndGlyphs"  stroke="#000" stroke-width="0.22">M7.5水泥砂浆砌MU30块石拱型骨架</text>
<line x1="528.5" y1="693" x2="590" y2="693" stroke="#000" stroke-width="1.8" />
<path d="M555,693 V709 H574" fill="none" stroke="#000" stroke-width="1.2"/>
<path d="M556,694 V708 H572 V702 H560 V694 Z" fill="#ddd"/>
<clipPath id="rb3"><path d="M574.5,693 L589.2,693 L589.2,718.6 L570,718.6 Z"/></clipPath>
<path d="M574.5,693 L589.2,693 L589.2,718.6 L570,718.6 Z" fill="#b8b8b8" stroke="none"/>
<g clip-path="url(#rb3)">
<ellipse cx="572" cy="696" rx="2.3" ry="1.7" fill="#fff" stroke="#777" stroke-width="0.5"/>
<ellipse cx="578" cy="696" rx="2.3" ry="1.7" fill="#fff" stroke="#777" stroke-width="0.5"/>
<ellipse cx="584" cy="696" rx="2.3" ry="1.7" fill="#fff" stroke="#777" stroke-width="0.5"/>
<ellipse cx="575" cy="700.5" rx="2.3" ry="1.7" fill="#fff" stroke="#777" stroke-width="0.5"/>
<ellipse cx="581" cy="700.5" rx="2.3" ry="1.7" fill="#fff" stroke="#777" stroke-width="0.5"/>
<ellipse cx="587" cy="700.5" rx="2.3" ry="1.7" fill="#fff" stroke="#777" stroke-width="0.5"/>
<ellipse cx="572" cy="705" rx="2.3" ry="1.7" fill="#fff" stroke="#777" stroke-width="0.5"/>
<ellipse cx="578" cy="705" rx="2.3" ry="1.7" fill="#fff" stroke="#777" stroke-width="0.5"/>
<ellipse cx="584" cy="705" rx="2.3" ry="1.7" fill="#fff" stroke="#777" stroke-width="0.5"/>
<ellipse cx="575" cy="709.5" rx="2.3" ry="1.7" fill="#fff" stroke="#777" stroke-width="0.5"/>
<ellipse cx="581" cy="709.5" rx="2.3" ry="1.7" fill="#fff" stroke="#777" stroke-width="0.5"/>
<ellipse cx="587" cy="709.5" rx="2.3" ry="1.7" fill="#fff" stroke="#777" stroke-width="0.5"/>
<ellipse cx="572" cy="714" rx="2.3" ry="1.7" fill="#fff" stroke="#777" stroke-width="0.5"/>
<ellipse cx="578" cy="714" rx="2.3" ry="1.7" fill="#fff" stroke="#777" stroke-width="0.5"/>
<ellipse cx="584" cy="714" rx="2.3" ry="1.7" fill="#fff" stroke="#777" stroke-width="0.5"/>
<ellipse cx="575" cy="718.5" rx="2.3" ry="1.7" fill="#fff" stroke="#777" stroke-width="0.5"/>
<ellipse cx="581" cy="718.5" rx="2.3" ry="1.7" fill="#fff" stroke="#777" stroke-width="0.5"/>
<ellipse cx="587" cy="718.5" rx="2.3" ry="1.7" fill="#fff" stroke="#777" stroke-width="0.5"/>
</g>
<path d="M574.5,693 L589.2,693 L589.2,718.6 L570,718.6 Z" fill="none" stroke="#000" stroke-width="1.3"/>
<line x1="552.2" y1="693" x2="552.2" y2="767" stroke="#000" stroke-width="0.9" />
<line x1="552.2" y1="751.8" x2="634.7" y2="751.8" stroke="#000" stroke-width="0.9" />
<line x1="552.2" y1="767" x2="634.7" y2="767" stroke="#000" stroke-width="0.9" />
<text x="555" y="749.5" font-size="9.5" font-family='"Liberation Sans", sans-serif' font-weight="normal" text-anchor="start" fill="#000" textLength="77" lengthAdjust="spacingAndGlyphs"  stroke="#000" stroke-width="0.22">150mm碎砾砂卵石底基层</text>
<text x="555" y="764.5" font-size="7" font-family='"Liberation Sans", sans-serif' font-weight="normal" text-anchor="start" fill="#000" textLength="16" lengthAdjust="spacingAndGlyphs"  stroke="#000" stroke-width="0.22">素土层</text>
<line x1="590.46" y1="693.53" x2="631.66" y2="657.53" stroke="#000" stroke-width="2.9" />
<line x1="590.66" y1="693.75" x2="631.86" y2="657.75" stroke="#fff" stroke-width="0.6" stroke-dasharray="1 7"/>
<g transform="translate(634 661) rotate(-40.61)"><rect x="-4" y="-4" width="8" height="8" fill="#fff" stroke="#000" stroke-width="1.5"/><path d="M-4,-4 L4,4 M-4,4 L4,-4" stroke="#000" stroke-width="0.9"/><circle cx="0" cy="-2" r="1.2" fill="#fff" stroke="#000" stroke-width="0.8"/></g>
<path d="M631.2,657 L650.2,651.6 L674.6,646.3 L697.4,631.1 L705,631.1 L715.7,641.7 L724.8,641.7 L736.2,629.9 L740.8,628.8" stroke="#000" stroke-width="1.2" fill="none" stroke-linejoin="miter" />
<path d="M631.91,659.5 L650.82,654.12 L675.64,648.68 L698.56,633.43 L703.7,633.35 L714.47,643.99 L726.1,643.95 L737.83,631.92 L741.4,631.33" stroke="#000" stroke-width="1.2" fill="none" stroke-linejoin="miter" />
<line x1="740.8" y1="628.8" x2="798.6" y2="614.4" stroke="#000" stroke-width="1.0" />
<line x1="530" y1="615.2" x2="589" y2="615.2" stroke="#000" stroke-width="0.9" />
<line x1="530" y1="609.5" x2="530" y2="630.4" stroke="#000" stroke-width="0.9" />
<line x1="589" y1="609.5" x2="589" y2="630.4" stroke="#000" stroke-width="0.9" />
<line x1="528" y1="617.2" x2="532" y2="613.2" stroke="#000" stroke-width="1.1" />
<line x1="587" y1="617.2" x2="591" y2="613.2" stroke="#000" stroke-width="1.1" />
<text x="552" y="613.5" font-size="8.5" font-family='"Liberation Sans", sans-serif' font-weight="normal" text-anchor="start" fill="#000" textLength="18" lengthAdjust="spacingAndGlyphs"  stroke="#000" stroke-width="0.22">2000</text>
<line x1="608.4" y1="615.1" x2="705" y2="615.1" stroke="#000" stroke-width="0.9" />
<line x1="608.4" y1="610.5" x2="608.4" y2="630.3" stroke="#000" stroke-width="0.9" />
<line x1="705" y1="610.5" x2="705" y2="626" stroke="#000" stroke-width="0.9" />
<line x1="606.4" y1="617.1" x2="610.4" y2="613.1" stroke="#000" stroke-width="1.1" />
<line x1="703" y1="617.1" x2="707" y2="613.1" stroke="#000" stroke-width="1.1" />
<text x="647" y="613.5" font-size="8.5" font-family='"Liberation Sans", sans-serif' font-weight="normal" text-anchor="start" fill="#000" textLength="20" lengthAdjust="spacingAndGlyphs"  stroke="#000" stroke-width="0.22">>1500</text>
<text x="635" y="631.5" font-size="7.5" font-family='"Liberation Sans", sans-serif' font-weight="normal" text-anchor="start" fill="#000" textLength="39.6" lengthAdjust="spacingAndGlyphs"  stroke="#000" stroke-width="0.22">C20喷射混凝土</text>
<line x1="634" y1="632.3" x2="674.6" y2="632.3" stroke="#000" stroke-width="0.9" />
<line x1="674.6" y1="632.3" x2="680" y2="642" stroke="#000" stroke-width="0.9" />
<text x="641" y="641" font-size="7.5" font-family='"Liberation Sans", sans-serif' font-weight="normal" text-anchor="start" fill="#000" textLength="17" lengthAdjust="spacingAndGlyphs"  stroke="#000" stroke-width="0.22">100厚</text>
<path d="M719.5,637 L731.7,652.8 L755.3,652.8" stroke="#000" stroke-width="0.9" fill="none" stroke-linejoin="miter" />
<text x="736" y="651" font-size="7.5" font-family='"Liberation Sans", sans-serif' font-weight="normal" text-anchor="start" fill="#000" textLength="19" lengthAdjust="spacingAndGlyphs"  stroke="#000" stroke-width="0.22">截水沟</text>
<text x="746" y="630.5" font-size="6" font-family='"Liberation Sans", sans-serif' font-weight="bold" text-anchor="start" fill="#000" textLength="13" lengthAdjust="spacingAndGlyphs" >坡顶</text>
<path d="M635,664 L641.3,681.3 L661.6,681.3" stroke="#000" stroke-width="0.9" fill="none" stroke-linejoin="miter" />
<text x="644" y="679.5" font-size="7.5" font-family='"Liberation Sans", sans-serif' font-weight="normal" text-anchor="start" fill="#000" textLength="13" lengthAdjust="spacingAndGlyphs"  stroke="#000" stroke-width="0.22">锚 墩</text>
<text x="612" y="657" font-size="8.5" font-family='"Liberation Sans", sans-serif' font-weight="normal" text-anchor="start" fill="#000" textLength="13" lengthAdjust="spacingAndGlyphs" transform="rotate(-40.61 612 657)"  stroke="#000" stroke-width="0.22">500</text>
<line x1="612" y1="660" x2="622" y2="672" stroke="#000" stroke-width="0.8" />
<line x1="627" y1="646" x2="637" y2="658" stroke="#000" stroke-width="0.8" />
<line x1="616" y1="665" x2="632" y2="651" stroke="#000" stroke-width="0.8" />
<line x1="574.5" y1="687" x2="574.5" y2="694" stroke="#000" stroke-width="0.8" />
<line x1="589.2" y1="687" x2="589.2" y2="694" stroke="#000" stroke-width="0.8" />
<line x1="572" y1="672" x2="592" y2="672" stroke="#000" stroke-width="0.9" />
<line x1="574.5" y1="668" x2="574.5" y2="688" stroke="#000" stroke-width="0.8" />
<line x1="589.2" y1="668" x2="589.2" y2="688" stroke="#000" stroke-width="0.8" />
<line x1="572.5" y1="674" x2="576.5" y2="670" stroke="#000" stroke-width="1.1" />
<line x1="587.2" y1="674" x2="591.2" y2="670" stroke="#000" stroke-width="1.1" />
<text x="576" y="670" font-size="8.5" font-family='"Liberation Sans", sans-serif' font-weight="normal" text-anchor="start" fill="#000" textLength="12" lengthAdjust="spacingAndGlyphs"  stroke="#000" stroke-width="0.22">600</text>
<line x1="590" y1="693" x2="616" y2="693" stroke="#000" stroke-width="0.9" />
<line x1="590" y1="719.6" x2="616" y2="719.6" stroke="#000" stroke-width="0.9" />
<line x1="612" y1="693" x2="612" y2="719.6" stroke="#000" stroke-width="0.9" />
<line x1="610" y1="695" x2="614" y2="691" stroke="#000" stroke-width="1.1" />
<line x1="610" y1="721.6" x2="614" y2="717.6" stroke="#000" stroke-width="1.1" />
<text x="610.5" y="714" font-size="8.5" font-family='"Liberation Sans", sans-serif' font-weight="normal" text-anchor="start" fill="#000" textLength="17" lengthAdjust="spacingAndGlyphs" transform="rotate(-90 610.5 714)"  stroke="#000" stroke-width="0.22">1000</text>
<line x1="567" y1="723" x2="567" y2="738" stroke="#000" stroke-width="0.8" />
<line x1="590" y1="723" x2="590" y2="738" stroke="#000" stroke-width="0.8" />
<line x1="566" y1="735.7" x2="591" y2="735.7" stroke="#000" stroke-width="0.9" />
<line x1="565" y1="737.7" x2="569" y2="733.7" stroke="#000" stroke-width="1.1" />
<line x1="588" y1="737.7" x2="592" y2="733.7" stroke="#000" stroke-width="1.1" />
<text x="571" y="733.5" font-size="8.5" font-family='"Liberation Sans", sans-serif' font-weight="normal" text-anchor="start" fill="#000" textLength="13" lengthAdjust="spacingAndGlyphs"  stroke="#000" stroke-width="0.22">800</text>
<path d="M590,705 L605,733.5 L672,733.5" stroke="#000" stroke-width="0.9" fill="none" stroke-linejoin="miter" />
<text x="633" y="729.5" font-size="6" font-family='"Liberation Sans", sans-serif' font-weight="bold" text-anchor="start" fill="#000" textLength="14" lengthAdjust="spacingAndGlyphs" >排水沟</text>
<text x="607" y="740.5" font-size="8" font-family='"Liberation Sans", sans-serif' font-weight="normal" text-anchor="start" fill="#000" textLength="72" lengthAdjust="spacingAndGlyphs"  stroke="#000" stroke-width="0.22">MU40块石M10水泥砂浆砌筑</text>
<path d="M552.2,666 L506,666" stroke="#000" stroke-width="0.9" fill="none" stroke-linejoin="miter" />
<path d="M552.2,666 L560,693" stroke="#000" stroke-width="0.9" fill="none" stroke-linejoin="miter" />
<text x="508.5" y="664.5" font-size="7.5" font-family='"Liberation Sans", sans-serif' font-weight="normal" text-anchor="start" fill="#000" textLength="42" lengthAdjust="spacingAndGlyphs"  stroke="#000" stroke-width="0.22">400*400排水沟</text>
<text x="508.5" y="673.5" font-size="6.5" font-family='"Liberation Sans", sans-serif' font-weight="normal" text-anchor="start" fill="#000" textLength="42" lengthAdjust="spacingAndGlyphs"  stroke="#000" stroke-width="0.22">截排水沟排水沟</text>
<path d="M533,698 L538,709.5 L551,709.5" stroke="#000" stroke-width="0.9" fill="none" stroke-linejoin="miter" />
<text x="538" y="708" font-size="6.5" font-family='"Liberation Sans", sans-serif' font-weight="normal" text-anchor="start" fill="#000" textLength="12" lengthAdjust="spacingAndGlyphs"  stroke="#000" stroke-width="0.22">锚坡</text>
<line x1="355.7" y1="828" x2="355.7" y2="820" stroke="#000" stroke-width="0.8" />
<line x1="368.7" y1="828" x2="368.7" y2="820" stroke="#000" stroke-width="0.8" />
<line x1="353" y1="824.5" x2="371" y2="824.5" stroke="#000" stroke-width="0.9" />
<line x1="353.7" y1="826.5" x2="357.7" y2="822.5" stroke="#000" stroke-width="1.1" />
<line x1="366.7" y1="826.5" x2="370.7" y2="822.5" stroke="#000" stroke-width="1.1" />
<text x="356" y="822.5" font-size="8.5" font-family='"Liberation Sans", sans-serif' font-weight="normal" text-anchor="start" fill="#000" textLength="12" lengthAdjust="spacingAndGlyphs"  stroke="#000" stroke-width="0.22">600</text>
<line x1="407" y1="831.7" x2="427" y2="831.7" stroke="#000" stroke-width="0.9" />
<line x1="407" y1="867.4" x2="427" y2="867.4" stroke="#000" stroke-width="0.9" />
<line x1="421.7" y1="831.7" x2="421.7" y2="867.4" stroke="#000" stroke-width="0.9" />
<line x1="419.7" y1="833.7" x2="423.7" y2="829.7" stroke="#000" stroke-width="1.1" />
<line x1="419.7" y1="869.4" x2="423.7" y2="865.4" stroke="#000" stroke-width="1.1" />
<text x="420" y="856" font-size="8.5" font-family='"Liberation Sans", sans-serif' font-weight="normal" text-anchor="start" fill="#000" textLength="17" lengthAdjust="spacingAndGlyphs" transform="rotate(-90 420 856)"  stroke="#000" stroke-width="0.22">1000</text>
<path d="M369,851 L385,877.8 L458,877.8" stroke="#000" stroke-width="1.3" fill="none" stroke-linejoin="miter" />
<text x="385" y="885.5" font-size="7.5" font-family='"Liberation Sans", sans-serif' font-weight="normal" text-anchor="start" fill="#000" textLength="73" lengthAdjust="spacingAndGlyphs"  stroke="#000" stroke-width="0.22">MU40块石M10水泥砂浆砌筑</text>
<text x="406" y="875.5" font-size="6" font-family='"Liberation Sans", sans-serif' font-weight="bold" text-anchor="start" fill="#000" textLength="14" lengthAdjust="spacingAndGlyphs" >排水沟</text>
<line x1="333" y1="844.8" x2="340" y2="844.8" stroke="#000" stroke-width="0.8" />
<line x1="333" y1="859.6" x2="340" y2="859.6" stroke="#000" stroke-width="0.8" />
<line x1="336.5" y1="840" x2="336.5" y2="861" stroke="#000" stroke-width="0.8" />
<text x="335.5" y="857" font-size="8" font-family='"Liberation Sans", sans-serif' font-weight="normal" text-anchor="start" fill="#000" textLength="12" lengthAdjust="spacingAndGlyphs" transform="rotate(-90 335.5 857)"  stroke="#000" stroke-width="0.22">400</text>
<path d="M256.5,834.8 L301.7,834.8 L309,846" stroke="#000" stroke-width="0.9" fill="none" stroke-linejoin="miter" />
<text x="256.5" y="833.5" font-size="7.5" font-family='"Liberation Sans", sans-serif' font-weight="normal" text-anchor="start" fill="#000" textLength="45" lengthAdjust="spacingAndGlyphs"  stroke="#000" stroke-width="0.22">C20素混凝土压顶</text>
<path d="M259,864 L292,864 L306,855" stroke="#000" stroke-width="0.9" fill="none" stroke-linejoin="miter" />
<text x="259" y="862.5" font-size="7" font-family='"Liberation Sans", sans-serif' font-weight="normal" text-anchor="start" fill="#000" textLength="23" lengthAdjust="spacingAndGlyphs"  stroke="#000" stroke-width="0.22">砂浆砌筑</text>
<path d="M253,887.2 L295,887.2 L306,867.4" stroke="#000" stroke-width="0.9" fill="none" stroke-linejoin="miter" />
<text x="253" y="885.8" font-size="7.5" font-family='"Liberation Sans", sans-serif' font-weight="normal" text-anchor="start" fill="#000" textLength="34" lengthAdjust="spacingAndGlyphs"  stroke="#000" stroke-width="0.22">C20素砼垫层</text>
<line x1="284" y1="852" x2="298" y2="852" stroke="#000" stroke-width="0.8" />
<line x1="284" y1="859.6" x2="298" y2="859.6" stroke="#000" stroke-width="0.8" />
<line x1="284" y1="867.4" x2="298" y2="867.4" stroke="#000" stroke-width="0.8" />
<line x1="293" y1="840" x2="293" y2="870" stroke="#000" stroke-width="0.8" />
<line x1="291" y1="847.3" x2="295" y2="843.3" stroke="#000" stroke-width="1.1" />
<line x1="291" y1="861.6" x2="295" y2="857.6" stroke="#000" stroke-width="1.1" />
<line x1="291" y1="869.4" x2="295" y2="865.4" stroke="#000" stroke-width="1.1" />
<text x="290" y="853" font-size="6.5" font-family='"Liberation Sans", sans-serif' font-weight="normal" text-anchor="start" fill="#000" textLength="8" lengthAdjust="spacingAndGlyphs" transform="rotate(-90 290 853)"  stroke="#000" stroke-width="0.22">100</text>
<text x="290" y="867" font-size="6.5" font-family='"Liberation Sans", sans-serif' font-weight="normal" text-anchor="start" fill="#000" textLength="8" lengthAdjust="spacingAndGlyphs" transform="rotate(-90 290 867)"  stroke="#000" stroke-width="0.22">150</text>
<line x1="306.7" y1="875" x2="306.7" y2="893" stroke="#000" stroke-width="0.9" />
<line x1="304.7" y1="892" x2="308.7" y2="888" stroke="#000" stroke-width="1.1" />
<line x1="321.7" y1="875" x2="321.7" y2="893" stroke="#000" stroke-width="0.9" />
<line x1="319.7" y1="892" x2="323.7" y2="888" stroke="#000" stroke-width="1.1" />
<line x1="342.6" y1="875" x2="342.6" y2="893" stroke="#000" stroke-width="0.9" />
<line x1="340.6" y1="892" x2="344.6" y2="888" stroke="#000" stroke-width="1.1" />
<line x1="368.7" y1="875" x2="368.7" y2="893" stroke="#000" stroke-width="0.9" />
<line x1="366.7" y1="892" x2="370.7" y2="888" stroke="#000" stroke-width="1.1" />
<line x1="305" y1="890" x2="371" y2="890" stroke="#000" stroke-width="0.9" />
<text x="308" y="887.5" font-size="8.5" font-family='"Liberation Sans", sans-serif' font-weight="normal" text-anchor="start" fill="#000" textLength="12" lengthAdjust="spacingAndGlyphs"  stroke="#000" stroke-width="0.22">240</text>
<text x="326" y="887.5" font-size="8.5" font-family='"Liberation Sans", sans-serif' font-weight="normal" text-anchor="start" fill="#000" textLength="13" lengthAdjust="spacingAndGlyphs"  stroke="#000" stroke-width="0.22">400</text>
<text x="349" y="887.5" font-size="8.5" font-family='"Liberation Sans", sans-serif' font-weight="normal" text-anchor="start" fill="#000" textLength="13" lengthAdjust="spacingAndGlyphs"  stroke="#000" stroke-width="0.22">800</text>
<text x="459" y="914.2" font-size="25" font-family='"Liberation Sans", sans-serif' font-weight="bold" text-anchor="start" fill="#000" textLength="32" lengthAdjust="spacingAndGlyphs" stroke="#000" stroke-width="0.3">2-2</text>
<text x="491" y="913" font-size="23" font-family='"Liberation Sans", sans-serif' font-weight="bold" text-anchor="start" fill="#000" textLength="60" lengthAdjust="spacingAndGlyphs" stroke="#000" stroke-width="0.5">剖面图</text>
<rect x="454" y="919.2" width="101" height="2.4" fill="#000"/>
<text x="454.5" y="929.5" font-size="6.8" font-family='"Liberation Sans", sans-serif' font-weight="bold" text-anchor="start" fill="#000" textLength="73" lengthAdjust="spacingAndGlyphs" >注：用于西侧和北侧挖方边坡。</text>
<path d="M870.4,815.7 L890.3,809.5 L937.4,780.3 L954,780.3 L974.8,800 L993.9,800 L1015.7,778.6 L1024.3,775.6 L1030,775 L1024.3,777.4 L997.4,807.8 L973,807.8 L948.7,784.3 L937.4,784.3 L891.3,814.8 L871.3,820.9 Z" fill="#e6e6e6" stroke="none"/>
<path d="M871.3,820.9 L891.3,814.8 L937.4,784.3 L948.7,784.3 L973,807.8 L997.4,807.8 L1024.3,777.4 L1030,775" stroke="#000" stroke-width="1.8" fill="none" stroke-linejoin="miter" />
<path d="M870.4,815.7 L890.3,809.5 L937.4,780.3 L954,780.3 L974.8,800 L993.9,800 L1015.7,778.6 L1024.3,775.6" stroke="#000" stroke-width="1.8" fill="none" stroke-linejoin="miter" />
<line x1="1024.3" y1="775.6" x2="1069.6" y2="766" stroke="#000" stroke-width="1.0" />
<line x1="870" y1="812" x2="872" y2="824" stroke="#000" stroke-width="1.0" />
<line x1="949" y1="766" x2="1020" y2="766" stroke="#000" stroke-width="0.9" />
<line x1="954.4" y1="761" x2="954.4" y2="776" stroke="#000" stroke-width="0.9" />
<line x1="952.4" y1="768" x2="956.4" y2="764" stroke="#000" stroke-width="1.1" />
<line x1="974.4" y1="761" x2="974.4" y2="776" stroke="#000" stroke-width="0.9" />
<line x1="972.4" y1="768" x2="976.4" y2="764" stroke="#000" stroke-width="1.1" />
<line x1="994.8" y1="761" x2="994.8" y2="776" stroke="#000" stroke-width="0.9" />
<line x1="992.8" y1="768" x2="996.8" y2="764" stroke="#000" stroke-width="1.1" />
<line x1="1016" y1="761" x2="1016" y2="776" stroke="#000" stroke-width="0.9" />
<line x1="1014" y1="768" x2="1018" y2="764" stroke="#000" stroke-width="1.1" />
<text x="959" y="764" font-size="8.5" font-family='"Liberation Sans", sans-serif' font-weight="normal" text-anchor="start" fill="#000" textLength="13" lengthAdjust="spacingAndGlyphs"  stroke="#000" stroke-width="0.22">500</text>
<text x="979.5" y="764" font-size="8.5" font-family='"Liberation Sans", sans-serif' font-weight="normal" text-anchor="start" fill="#000" textLength="13" lengthAdjust="spacingAndGlyphs"  stroke="#000" stroke-width="0.22">400</text>
<text x="999" y="764" font-size="8.5" font-family='"Liberation Sans", sans-serif' font-weight="normal" text-anchor="start" fill="#000" textLength="13" lengthAdjust="spacingAndGlyphs"  stroke="#000" stroke-width="0.22">500</text>
<line x1="1030" y1="779" x2="1050" y2="779" stroke="#000" stroke-width="0.9" />
<line x1="1030" y1="800" x2="1050" y2="800" stroke="#000" stroke-width="0.9" />
<line x1="1030" y1="808" x2="1050" y2="808" stroke="#000" stroke-width="0.9" />
<line x1="1043.5" y1="776" x2="1043.5" y2="810" stroke="#000" stroke-width="0.9" />
<line x1="1041.5" y1="781" x2="1045.5" y2="777" stroke="#000" stroke-width="1.1" />
<line x1="1041.5" y1="802" x2="1045.5" y2="798" stroke="#000" stroke-width="1.1" />
<line x1="1041.5" y1="810" x2="1045.5" y2="806" stroke="#000" stroke-width="1.1" />
<text x="1043" y="797" font-size="8" font-family='"Liberation Sans", sans-serif' font-weight="normal" text-anchor="start" fill="#000" textLength="12" lengthAdjust="spacingAndGlyphs" transform="rotate(-90 1043 797)"  stroke="#000" stroke-width="0.22">500</text>
<text x="1043" y="809" font-size="7" font-family='"Liberation Sans", sans-serif' font-weight="normal" text-anchor="start" fill="#000" textLength="8" lengthAdjust="spacingAndGlyphs" transform="rotate(-90 1043 809)"  stroke="#000" stroke-width="0.22">150</text>
<line x1="920" y1="780.3" x2="937" y2="780.3" stroke="#000" stroke-width="0.9" />
<line x1="925" y1="800" x2="937" y2="800" stroke="#000" stroke-width="0.9" />
<line x1="925" y1="807" x2="937" y2="807" stroke="#000" stroke-width="0.9" />
<line x1="924.3" y1="779" x2="924.3" y2="810" stroke="#000" stroke-width="0.9" />
<line x1="922.3" y1="782.3" x2="926.3" y2="778.3" stroke="#000" stroke-width="1.1" />
<line x1="922.3" y1="802" x2="926.3" y2="798" stroke="#000" stroke-width="1.1" />
<line x1="922.3" y1="809" x2="926.3" y2="805" stroke="#000" stroke-width="1.1" />
<text x="923.5" y="797" font-size="8" font-family='"Liberation Sans", sans-serif' font-weight="normal" text-anchor="start" fill="#000" textLength="12" lengthAdjust="spacingAndGlyphs" transform="rotate(-90 923.5 797)"  stroke="#000" stroke-width="0.22">500</text>
<text x="923.5" y="809" font-size="7" font-family='"Liberation Sans", sans-serif' font-weight="normal" text-anchor="start" fill="#000" textLength="8" lengthAdjust="spacingAndGlyphs" transform="rotate(-90 923.5 809)"  stroke="#000" stroke-width="0.22">150</text>
<path d="M856.5,794.6 L897,794.6 L903,803" stroke="#000" stroke-width="0.9" fill="none" stroke-linejoin="miter" />
<text x="856.5" y="793" font-size="7.5" font-family='"Liberation Sans", sans-serif' font-weight="normal" text-anchor="start" fill="#000" textLength="37.5" lengthAdjust="spacingAndGlyphs"  stroke="#000" stroke-width="0.22">C20喷射混凝土</text>
<text x="865" y="801.5" font-size="7.5" font-family='"Liberation Sans", sans-serif' font-weight="normal" text-anchor="start" fill="#000" textLength="17" lengthAdjust="spacingAndGlyphs"  stroke="#000" stroke-width="0.22">100厚</text>
<path d="M983,808 L1003,828.7 L1039,828.7" stroke="#000" stroke-width="0.9" fill="none" stroke-linejoin="miter" />
<text x="1004" y="827.5" font-size="7.5" font-family='"Liberation Sans", sans-serif' font-weight="normal" text-anchor="start" fill="#000" textLength="34" lengthAdjust="spacingAndGlyphs"  stroke="#000" stroke-width="0.22">C20素混凝土</text>
<text x="929.6" y="875" font-size="22.5" font-family='"Liberation Sans", sans-serif' font-weight="bold" text-anchor="start" fill="#000" textLength="100" lengthAdjust="spacingAndGlyphs" stroke="#000" stroke-width="0.55">截水沟大样</text>
<rect x="924.3" y="880.4" width="109.7" height="2.6" fill="#000"/>
<path d="M1205.5,821.6 L1188.8,838.5 M1193.5,831.7 H1221.7 M1205.5,831.7 V849 M1188.2,849 H1221.7 M1204.5,851 L1190.3,876.3 M1206.5,857 L1221,876.3 M1225.7,828.6 H1242 V873.3 H1225.7 Z M1252.1,832.1 H1309 M1259.2,846.3 H1301.8 M1280.5,821.6 V878.4 M1277.5,854 L1253.1,872.3 M1283.6,854 L1309,872.3" fill="none" stroke="#8c8c8c" stroke-width="6.6" stroke-linejoin="miter"/>
<path d="M1205.5,821.6 L1188.8,838.5 M1193.5,831.7 H1221.7 M1205.5,831.7 V849 M1188.2,849 H1221.7 M1204.5,851 L1190.3,876.3 M1206.5,857 L1221,876.3 M1225.7,828.6 H1242 V873.3 H1225.7 Z M1252.1,832.1 H1309 M1259.2,846.3 H1301.8 M1280.5,821.6 V878.4 M1277.5,854 L1253.1,872.3 M1283.6,854 L1309,872.3" fill="none" stroke="#fff" stroke-width="4.4" stroke-linejoin="miter"/>
<text x="1141.6" y="922" font-family='"Liberation Sans", sans-serif' font-size="35" fill="#fff" stroke="#8a8a8a" stroke-width="1.1" textLength="221" lengthAdjust="spacingAndGlyphs">ID: 1201798371</text>
</svg></body></html>
